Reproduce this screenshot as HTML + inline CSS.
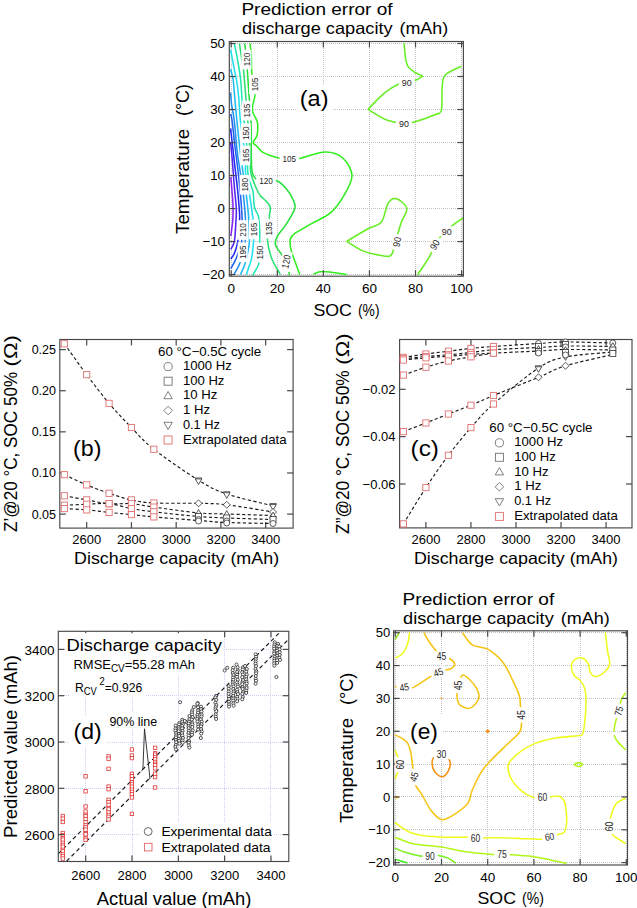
<!DOCTYPE html>
<html><head><meta charset="utf-8"><style>
html,body{margin:0;padding:0;background:#fff;}
body{width:637px;height:908px;overflow:hidden;}
svg{display:block;font-family:"Liberation Sans", sans-serif;}
</style></head><body>
<svg width="637" height="908" viewBox="0 0 637 908">
<rect width="637" height="908" fill="#fff"/>
<line x1="231.5" y1="44" x2="231.5" y2="275" stroke="#c2c2c2" stroke-width="1" stroke-dasharray="1,1"/>
<line x1="277.5" y1="44" x2="277.5" y2="275" stroke="#c2c2c2" stroke-width="1" stroke-dasharray="1,1"/>
<line x1="323.5" y1="44" x2="323.5" y2="275" stroke="#c2c2c2" stroke-width="1" stroke-dasharray="1,1"/>
<line x1="369.5" y1="44" x2="369.5" y2="275" stroke="#c2c2c2" stroke-width="1" stroke-dasharray="1,1"/>
<line x1="415.5" y1="44" x2="415.5" y2="275" stroke="#c2c2c2" stroke-width="1" stroke-dasharray="1,1"/>
<line x1="461.5" y1="44" x2="461.5" y2="275" stroke="#c2c2c2" stroke-width="1" stroke-dasharray="1,1"/>
<line x1="231" y1="274.5" x2="462" y2="274.5" stroke="#c2c2c2" stroke-width="1" stroke-dasharray="1,1"/>
<line x1="231" y1="241.5" x2="462" y2="241.5" stroke="#c2c2c2" stroke-width="1" stroke-dasharray="1,1"/>
<line x1="231" y1="208.5" x2="462" y2="208.5" stroke="#c2c2c2" stroke-width="1" stroke-dasharray="1,1"/>
<line x1="231" y1="175.5" x2="462" y2="175.5" stroke="#c2c2c2" stroke-width="1" stroke-dasharray="1,1"/>
<line x1="231" y1="142.5" x2="462" y2="142.5" stroke="#c2c2c2" stroke-width="1" stroke-dasharray="1,1"/>
<line x1="231" y1="109.5" x2="462" y2="109.5" stroke="#c2c2c2" stroke-width="1" stroke-dasharray="1,1"/>
<line x1="231" y1="76.5" x2="462" y2="76.5" stroke="#c2c2c2" stroke-width="1" stroke-dasharray="1,1"/>
<line x1="231" y1="43.5" x2="462" y2="43.5" stroke="#c2c2c2" stroke-width="1" stroke-dasharray="1,1"/>
<rect x="297" y="86" width="36" height="26.7" fill="#fff"/>
<path d="M404.1,43.2 C404.33,45.67 404.83,54.08 405.5,58 C406.17,61.92 406.52,64.28 408.1,66.7 C409.68,69.12 412.55,70.95 415,72.5 C417.45,74.05 421.5,75.42 422.8,76" fill="none" stroke="#66ee22" stroke-width="1.55" stroke-linejoin="round" stroke-linecap="butt"/>
<path d="M422.8,76 C421.68,76.67 418.77,78.88 416.1,80 C413.43,81.12 409.7,82.03 406.8,82.7 C403.9,83.37 402.5,82.22 398.7,84 C394.9,85.78 389.12,89.17 384,93.4 C378.88,97.63 370.67,106.73 368,109.4" fill="none" stroke="#66ee22" stroke-width="1.55" stroke-linejoin="round" stroke-linecap="butt"/>
<path d="M368,109.4 C371.12,111.17 380.7,117.68 386.7,120 C392.7,122.32 399.55,122.93 404,123.3 C408.45,123.67 408.27,123.63 413.4,122.2 C418.53,120.77 430.13,116.73 434.8,114.7 C439.47,112.67 440.17,114.67 441.4,110 C442.63,105.33 441.52,92.58 442.2,86.7 C442.88,80.82 442.28,78.12 445.5,74.7 C448.72,71.28 458.83,67.62 461.5,66.2" fill="none" stroke="#66ee22" stroke-width="1.55" stroke-linejoin="round" stroke-linecap="butt"/>
<path d="M250,43.5 C250.22,45.25 251,49 251.3,54 C251.6,59 251.35,68.42 251.8,73.5 C252.25,78.58 253.48,80.83 254,84.5 C254.52,88.17 255.2,91.32 254.9,95.5 C254.6,99.68 251.92,105.52 252.2,109.6 C252.48,113.68 255.68,117.5 256.6,120 C257.52,122.5 257.62,122.07 257.7,124.6 C257.78,127.13 257.87,132.22 257.1,135.2 C256.33,138.18 253.22,140.73 253.1,142.5 C252.98,144.27 254.75,144.15 256.4,145.8 C258.05,147.45 259.47,150.42 263,152.4 C266.53,154.38 273.22,156.65 277.6,157.7 C281.98,158.75 285.7,158.57 289.3,158.7 C292.9,158.83 293.18,159.6 299.2,158.5 C305.22,157.4 318.15,152.18 325.4,152.1 C332.65,152.02 338.27,154.12 342.7,158 C347.13,161.88 351.78,169.17 352,175.4 C352.22,181.63 347.55,189.18 344,195.4 C340.45,201.62 336.03,208.03 330.7,212.7 C325.37,217.37 317.78,220.07 312,223.4 C306.22,226.73 299.6,230.15 296,232.7 C292.4,235.25 291.22,235.8 290.4,238.7 C289.58,241.6 290.15,245.82 291.1,250.1 C292.05,254.38 294.67,260.33 296.1,264.4 C297.53,268.47 299.1,272.82 299.7,274.5" fill="none" stroke="#30ee1e" stroke-width="1.55" stroke-linejoin="round" stroke-linecap="butt"/>
<path d="M346.7,241.3 C350.25,239.2 362.22,231.92 368,228.7 C373.78,225.48 378.07,226.22 381.4,222 C384.73,217.78 385.57,207.3 388,203.4 C390.43,199.5 392.87,197.8 396,198.6 C399.13,199.4 405.9,204.3 406.8,208.2 C407.7,212.1 402.97,217.47 401.4,222 C399.83,226.53 398.73,230.73 397.4,235.4 C396.07,240.07 394.73,246.53 393.4,250 C392.07,253.47 392.3,255.43 389.4,256.2 C386.5,256.97 380.45,255.48 376,254.6 C371.55,253.72 367.58,253.12 362.7,250.9 C357.82,248.68 349.37,242.9 346.7,241.3" fill="none" stroke="#66ee22" stroke-width="1.55" stroke-linejoin="round" stroke-linecap="butt"/>
<path d="M313.3,274.4 C314.87,273.9 317.13,271.4 322.7,271.4 C328.27,271.4 342.7,273.9 346.7,274.4" fill="none" stroke="#30ee1e" stroke-width="1.55" stroke-linejoin="round" stroke-linecap="butt"/>
<path d="M417.4,274.9 C419.4,271.88 426.5,261.83 429.4,256.8 C432.3,251.77 432.8,248.27 434.8,244.7 C436.8,241.13 439.4,237.62 441.4,235.4 C443.4,233.18 444.78,233.18 446.8,231.4 C448.82,229.62 450.83,226.93 453.5,224.7 C456.17,222.47 461.25,219.12 462.8,218" fill="none" stroke="#66ee22" stroke-width="1.55" stroke-linejoin="round" stroke-linecap="butt"/>
<path d="M244.7,43.5 C244.83,44.58 245.2,47.25 245.5,50 C245.8,52.75 246.2,56.67 246.5,60 C246.8,63.33 246.87,64 247.3,70 C247.73,76 248.48,87.42 249.1,96 C249.72,104.58 250.65,113.83 251,121.5 C251.35,129.17 251.12,134.75 251.2,142 C251.28,149.25 251.28,159.75 251.5,165 C251.72,170.25 251.83,171.25 252.5,173.5 C253.17,175.75 254.42,177.28 255.5,178.5 C256.58,179.72 257.25,180.42 259,180.8 C260.75,181.18 263.03,180.8 266,180.8 C268.97,180.8 273.45,179.5 276.8,180.8 C280.15,182.1 283.37,185.4 286.1,188.6 C288.83,191.8 291.77,196.65 293.2,200 C294.63,203.35 295.88,204.63 294.7,208.7 C293.52,212.77 288.97,219.88 286.1,224.4 C283.23,228.92 279.28,232.47 277.5,235.8 C275.72,239.13 275.05,241.77 275.4,244.4 C275.75,247.03 277.82,248.73 279.6,251.6 C281.38,254.47 284.53,258.03 286.1,261.6 C287.67,265.17 288.43,270.68 289,273 C289.57,275.32 289.42,275.08 289.5,275.5" fill="none" stroke="#26e03c" stroke-width="1.55" stroke-linejoin="round" stroke-linecap="butt"/>
<path d="M239.5,43.5 C239.78,45.5 240.53,51.08 241.2,55.5 C241.87,59.92 242.68,62.45 243.5,70 C244.32,77.55 245.52,94.03 246.1,100.8 C246.68,107.57 246.6,105.73 247,110.6 C247.4,115.47 248.03,123.43 248.5,130 C248.97,136.57 249.47,143.33 249.8,150 C250.13,156.67 250.13,165.5 250.5,170 C250.87,174.5 251.02,173.92 252,177 C252.98,180.08 255,185.37 256.4,188.5 C257.8,191.63 258.72,193.63 260.4,195.8 C262.08,197.97 264.85,199.6 266.5,201.5 C268.15,203.4 269.8,204.95 270.3,207.2 C270.8,209.45 269.73,211.42 269.5,215 C269.27,218.58 269.23,224.52 268.9,228.7 C268.57,232.88 267.02,235.1 267.5,240.1 C267.98,245.1 269.65,252.97 271.8,258.7 C273.95,264.43 278.97,271.87 280.4,274.5" fill="none" stroke="#2ee070" stroke-width="1.55" stroke-linejoin="round" stroke-linecap="butt"/>
<path d="M234.4,43.5 C234.9,46.05 236.35,52.72 237.4,58.8 C238.45,64.88 239.92,73 240.7,80 C241.48,87 241.55,94.13 242.1,100.8 C242.65,107.47 243.38,114.6 244,120 C244.62,125.4 245.3,128.2 245.8,133.2 C246.3,138.2 246.67,143.53 247,150 C247.33,156.47 247.33,166.68 247.8,172 C248.27,177.32 248.92,178.6 249.8,181.9 C250.68,185.2 252.33,187.62 253.1,191.8 C253.87,195.98 253.52,202.92 254.4,207 C255.28,211.08 257.52,212.47 258.4,216.3 C259.28,220.13 259.5,225.65 259.7,230 C259.9,234.35 259.65,238.63 259.6,242.4 C259.55,246.17 259.55,248.98 259.4,252.6 C259.25,256.22 259.67,260.58 258.7,264.1 C257.73,267.62 254.58,271.8 253.6,273.7 C252.62,275.6 252.93,275.2 252.8,275.5" fill="none" stroke="#20e8b0" stroke-width="1.55" stroke-linejoin="round" stroke-linecap="butt"/>
<path d="M230.6,49.5 C231.18,52.63 233.12,63.22 234.1,68.3 C235.08,73.38 235.75,75.38 236.5,80 C237.25,84.62 237.97,89.33 238.6,96 C239.23,102.67 239.57,112.67 240.3,120 C241.03,127.33 242.18,134.08 243,140 C243.82,145.92 244.78,150.17 245.2,155.5 C245.62,160.83 245.12,167.08 245.5,172 C245.88,176.92 246.78,180.93 247.5,185 C248.22,189.07 248.87,190.63 249.8,196.4 C250.73,202.17 252.42,214.08 253.1,219.6 C253.78,225.12 253.82,225.92 253.9,229.5 C253.98,233.08 253.98,236.3 253.6,241.1 C253.22,245.9 252.45,253.82 251.6,258.3 C250.75,262.78 249.35,265.28 248.5,268 C247.65,270.72 246.83,273.5 246.5,274.6" fill="none" stroke="#20e0f0" stroke-width="1.55" stroke-linejoin="round" stroke-linecap="butt"/>
<path d="M230.6,69 C231.03,70.83 232.53,75.5 233.2,80 C233.87,84.5 234,89.33 234.6,96 C235.2,102.67 235.9,111 236.8,120 C237.7,129 238.98,141.33 240,150 C241.02,158.67 242.12,166.2 242.9,172 C243.68,177.8 244.1,180.73 244.7,184.8 C245.3,188.87 245.82,190.6 246.5,196.4 C247.18,202.2 248.32,212.15 248.8,219.6 C249.28,227.05 249.57,235.7 249.4,241.1 C249.23,246.5 248.55,248.17 247.8,252 C247.05,255.83 246.12,260.33 244.9,264.1 C243.68,267.87 241.23,272.85 240.5,274.6" fill="none" stroke="#20b8f0" stroke-width="1.55" stroke-linejoin="round" stroke-linecap="butt"/>
<path d="M230.6,92.5 C230.75,94.42 230.9,99.42 231.5,104 C232.1,108.58 233.28,112.33 234.2,120 C235.12,127.67 236,141.33 237,150 C238,158.67 239.12,164.27 240.2,172 C241.28,179.73 242.62,188.47 243.5,196.4 C244.38,204.33 245.2,212.15 245.5,219.6 C245.8,227.05 245.77,235.65 245.3,241.1 C244.83,246.55 243.67,248.47 242.7,252.3 C241.73,256.13 240.98,260.38 239.5,264.1 C238.02,267.82 234.75,272.85 233.8,274.6" fill="none" stroke="#2290f0" stroke-width="1.55" stroke-linejoin="round" stroke-linecap="butt"/>
<path d="M230.6,114 C230.83,115 231.3,114.83 232,120 C232.7,125.17 233.82,136.67 234.8,145 C235.78,153.33 236.93,161.43 237.9,170 C238.87,178.57 239.88,188.13 240.6,196.4 C241.32,204.67 241.95,214 242.2,219.6 C242.45,225.2 242.18,226.42 242.1,230 C242.02,233.58 242.45,236.97 241.7,241.1 C240.95,245.23 238.82,251.28 237.6,254.8 C236.38,258.32 235.53,259.9 234.4,262.2 C233.27,264.5 231.4,267.53 230.8,268.6" fill="none" stroke="#2260f0" stroke-width="1.55" stroke-linejoin="round" stroke-linecap="butt"/>
<path d="M230.6,128.5 C231,132.08 232.22,143.08 233,150 C233.78,156.92 234.53,163.37 235.3,170 C236.07,176.63 236.95,183.42 237.6,189.8 C238.25,196.18 238.87,203.33 239.2,208.3 C239.53,213.27 239.82,214.13 239.6,219.6 C239.38,225.07 238.77,235.5 237.9,241.1 C237.03,246.7 235.58,250.22 234.4,253.2 C233.22,256.18 231.4,258.03 230.8,259" fill="none" stroke="#2228f0" stroke-width="1.55" stroke-linejoin="round" stroke-linecap="butt"/>
<path d="M230.6,142.5 C230.88,145.42 231.87,155.08 232.3,160 C232.73,164.92 232.82,167.03 233.2,172 C233.58,176.97 234.08,183.75 234.6,189.8 C235.12,195.85 236.07,203.27 236.3,208.3 C236.53,213.33 236.32,214.53 236,220 C235.68,225.47 235.27,236.2 234.4,241.1 C233.53,246 231.4,248.02 230.8,249.4" fill="none" stroke="#5522f0" stroke-width="1.55" stroke-linejoin="round" stroke-linecap="butt"/>
<path d="M230.8,177 C231.05,180 231.93,190.1 232.3,195 C232.67,199.9 232.92,202.23 233,206.4 C233.08,210.57 233.17,215.07 232.8,220 C232.43,224.93 231.13,233.33 230.8,236" fill="none" stroke="#8a22f0" stroke-width="1.55" stroke-linejoin="round" stroke-linecap="butt"/>
<rect x="229.3" y="41.5" width="234.1" height="234.7" fill="none" stroke="#484848" stroke-width="1.15"/>
<line x1="231.2" y1="41.5" x2="231.2" y2="47.5" stroke="#484848" stroke-width="1.2"/>
<line x1="231.2" y1="276.2" x2="231.2" y2="270.2" stroke="#484848" stroke-width="1.2"/>
<line x1="277.28" y1="41.5" x2="277.28" y2="47.5" stroke="#484848" stroke-width="1.2"/>
<line x1="277.28" y1="276.2" x2="277.28" y2="270.2" stroke="#484848" stroke-width="1.2"/>
<line x1="323.36" y1="41.5" x2="323.36" y2="47.5" stroke="#484848" stroke-width="1.2"/>
<line x1="323.36" y1="276.2" x2="323.36" y2="270.2" stroke="#484848" stroke-width="1.2"/>
<line x1="369.44" y1="41.5" x2="369.44" y2="47.5" stroke="#484848" stroke-width="1.2"/>
<line x1="369.44" y1="276.2" x2="369.44" y2="270.2" stroke="#484848" stroke-width="1.2"/>
<line x1="415.52" y1="41.5" x2="415.52" y2="47.5" stroke="#484848" stroke-width="1.2"/>
<line x1="415.52" y1="276.2" x2="415.52" y2="270.2" stroke="#484848" stroke-width="1.2"/>
<line x1="461.6" y1="41.5" x2="461.6" y2="47.5" stroke="#484848" stroke-width="1.2"/>
<line x1="461.6" y1="276.2" x2="461.6" y2="270.2" stroke="#484848" stroke-width="1.2"/>
<line x1="229.3" y1="274.57" x2="235.3" y2="274.57" stroke="#484848" stroke-width="1.2"/>
<line x1="463.4" y1="274.57" x2="457.4" y2="274.57" stroke="#484848" stroke-width="1.2"/>
<line x1="229.3" y1="241.56" x2="235.3" y2="241.56" stroke="#484848" stroke-width="1.2"/>
<line x1="463.4" y1="241.56" x2="457.4" y2="241.56" stroke="#484848" stroke-width="1.2"/>
<line x1="229.3" y1="208.55" x2="235.3" y2="208.55" stroke="#484848" stroke-width="1.2"/>
<line x1="463.4" y1="208.55" x2="457.4" y2="208.55" stroke="#484848" stroke-width="1.2"/>
<line x1="229.3" y1="175.54" x2="235.3" y2="175.54" stroke="#484848" stroke-width="1.2"/>
<line x1="463.4" y1="175.54" x2="457.4" y2="175.54" stroke="#484848" stroke-width="1.2"/>
<line x1="229.3" y1="142.53" x2="235.3" y2="142.53" stroke="#484848" stroke-width="1.2"/>
<line x1="463.4" y1="142.53" x2="457.4" y2="142.53" stroke="#484848" stroke-width="1.2"/>
<line x1="229.3" y1="109.52" x2="235.3" y2="109.52" stroke="#484848" stroke-width="1.2"/>
<line x1="463.4" y1="109.52" x2="457.4" y2="109.52" stroke="#484848" stroke-width="1.2"/>
<line x1="229.3" y1="76.51" x2="235.3" y2="76.51" stroke="#484848" stroke-width="1.2"/>
<line x1="463.4" y1="76.51" x2="457.4" y2="76.51" stroke="#484848" stroke-width="1.2"/>
<line x1="229.3" y1="43.5" x2="235.3" y2="43.5" stroke="#484848" stroke-width="1.2"/>
<line x1="463.4" y1="43.5" x2="457.4" y2="43.5" stroke="#484848" stroke-width="1.2"/>
<g><rect x="396.05" y="118.3" width="15.9" height="10" fill="#fff"/>
<text x="404" y="126.8" font-size="9.78" text-anchor="middle" textLength="9.9" lengthAdjust="spacingAndGlyphs" fill="#262626">90</text></g>
<g><rect x="398.85" y="77.7" width="15.9" height="10" fill="#fff"/>
<text x="406.8" y="86.2" font-size="9.78" text-anchor="middle" textLength="9.9" lengthAdjust="spacingAndGlyphs" fill="#262626">90</text></g>
<g><rect x="279.49" y="153.7" width="19.61" height="10" fill="#fff"/>
<text x="289.3" y="162.2" font-size="9.78" text-anchor="middle" textLength="13.61" lengthAdjust="spacingAndGlyphs" fill="#262626">105</text></g>
<g transform="rotate(-80 397 242)"><rect x="389.05" y="237" width="15.9" height="10" fill="#fff"/>
<text x="397" y="245.5" font-size="9.78" text-anchor="middle" textLength="9.9" lengthAdjust="spacingAndGlyphs" fill="#262626">90</text></g>
<g transform="rotate(-60 434.8 244.7)"><rect x="426.85" y="239.7" width="15.9" height="10" fill="#fff"/>
<text x="434.8" y="248.2" font-size="9.78" text-anchor="middle" textLength="9.9" lengthAdjust="spacingAndGlyphs" fill="#262626">90</text></g>
<g><rect x="438.85" y="226.4" width="15.9" height="10" fill="#fff"/>
<text x="446.8" y="234.9" font-size="9.78" text-anchor="middle" textLength="9.9" lengthAdjust="spacingAndGlyphs" fill="#262626">90</text></g>
<g transform="rotate(-90 246.5 59.5)"><rect x="236.69" y="54.5" width="19.61" height="10" fill="#fff"/>
<text x="246.5" y="63" font-size="9.78" text-anchor="middle" textLength="13.61" lengthAdjust="spacingAndGlyphs" fill="#262626">120</text></g>
<g transform="rotate(-90 254.2 84.5)"><rect x="244.39" y="79.5" width="19.61" height="10" fill="#fff"/>
<text x="254.2" y="88" font-size="9.78" text-anchor="middle" textLength="13.61" lengthAdjust="spacingAndGlyphs" fill="#262626">105</text></g>
<g transform="rotate(-90 247 110.6)"><rect x="237.19" y="105.6" width="19.61" height="10" fill="#fff"/>
<text x="247" y="114.1" font-size="9.78" text-anchor="middle" textLength="13.61" lengthAdjust="spacingAndGlyphs" fill="#262626">135</text></g>
<g transform="rotate(-90 245.8 133.2)"><rect x="235.99" y="128.2" width="19.61" height="10" fill="#fff"/>
<text x="245.8" y="136.7" font-size="9.78" text-anchor="middle" textLength="13.61" lengthAdjust="spacingAndGlyphs" fill="#262626">150</text></g>
<g transform="rotate(-90 245.2 155.5)"><rect x="235.39" y="150.5" width="19.61" height="10" fill="#fff"/>
<text x="245.2" y="159" font-size="9.78" text-anchor="middle" textLength="13.61" lengthAdjust="spacingAndGlyphs" fill="#262626">165</text></g>
<g transform="rotate(-90 244.7 184.8)"><rect x="234.89" y="179.8" width="19.61" height="10" fill="#fff"/>
<text x="244.7" y="188.3" font-size="9.78" text-anchor="middle" textLength="13.61" lengthAdjust="spacingAndGlyphs" fill="#262626">180</text></g>
<g transform="rotate(-90 242.1 230)"><rect x="232.29" y="225" width="19.61" height="10" fill="#fff"/>
<text x="242.1" y="233.5" font-size="9.78" text-anchor="middle" textLength="13.61" lengthAdjust="spacingAndGlyphs" fill="#262626">210</text></g>
<g transform="rotate(-90 253.9 229.5)"><rect x="244.09" y="224.5" width="19.61" height="10" fill="#fff"/>
<text x="253.9" y="233" font-size="9.78" text-anchor="middle" textLength="13.61" lengthAdjust="spacingAndGlyphs" fill="#262626">165</text></g>
<g transform="rotate(-90 268.9 228.7)"><rect x="259.09" y="223.7" width="19.61" height="10" fill="#fff"/>
<text x="268.9" y="232.2" font-size="9.78" text-anchor="middle" textLength="13.61" lengthAdjust="spacingAndGlyphs" fill="#262626">135</text></g>
<g transform="rotate(-90 242.7 252.3)"><rect x="232.89" y="247.3" width="19.61" height="10" fill="#fff"/>
<text x="242.7" y="255.8" font-size="9.78" text-anchor="middle" textLength="13.61" lengthAdjust="spacingAndGlyphs" fill="#262626">195</text></g>
<g transform="rotate(-90 259.4 252.6)"><rect x="249.59" y="247.6" width="19.61" height="10" fill="#fff"/>
<text x="259.4" y="256.1" font-size="9.78" text-anchor="middle" textLength="13.61" lengthAdjust="spacingAndGlyphs" fill="#262626">150</text></g>
<g><rect x="256.19" y="175.8" width="19.61" height="10" fill="#fff"/>
<text x="266" y="184.3" font-size="9.78" text-anchor="middle" textLength="13.61" lengthAdjust="spacingAndGlyphs" fill="#262626">120</text></g>
<g transform="rotate(-80 286.1 261.6)"><rect x="276.29" y="256.6" width="19.61" height="10" fill="#fff"/>
<text x="286.1" y="265.1" font-size="9.78" text-anchor="middle" textLength="13.61" lengthAdjust="spacingAndGlyphs" fill="#262626">120</text></g>
<text x="225" y="279.37" font-size="13.3" text-anchor="end" fill="#000">−20</text>
<text x="225" y="246.36" font-size="13.3" text-anchor="end" fill="#000">−10</text>
<text x="225" y="213.35" font-size="13.3" text-anchor="end" fill="#000">0</text>
<text x="225" y="180.34" font-size="13.3" text-anchor="end" fill="#000">10</text>
<text x="225" y="147.33" font-size="13.3" text-anchor="end" fill="#000">20</text>
<text x="225" y="114.32" font-size="13.3" text-anchor="end" fill="#000">30</text>
<text x="225" y="81.31" font-size="13.3" text-anchor="end" fill="#000">40</text>
<text x="225" y="48.3" font-size="13.3" text-anchor="end" fill="#000">50</text>
<text x="231.2" y="292.8" font-size="13.5" text-anchor="middle" fill="#000">0</text>
<text x="277.28" y="292.8" font-size="13.5" text-anchor="middle" fill="#000">20</text>
<text x="323.36" y="292.8" font-size="13.5" text-anchor="middle" fill="#000">40</text>
<text x="369.44" y="292.8" font-size="13.5" text-anchor="middle" fill="#000">60</text>
<text x="415.52" y="292.8" font-size="13.5" text-anchor="middle" fill="#000">80</text>
<text x="461.6" y="292.8" font-size="13.5" text-anchor="middle" fill="#000">100</text>
<text x="241.4" y="14.6" font-size="16.5" textLength="151.2" lengthAdjust="spacingAndGlyphs" fill="#000">Prediction error of</text>
<text x="241.9" y="33.7" font-size="16.5" textLength="150.7" lengthAdjust="spacingAndGlyphs" fill="#000">discharge capacity</text>
<text x="399.5" y="33.7" font-size="16.5" textLength="48.7" lengthAdjust="spacingAndGlyphs" fill="#000">(mAh)</text>
<text x="299.8" y="105.7" font-size="21.5" textLength="28.7" lengthAdjust="spacingAndGlyphs" fill="#000">(a)</text>
<text x="313.4" y="315.7" font-size="16.6" textLength="38.5" lengthAdjust="spacingAndGlyphs" fill="#000">SOC</text>
<text x="358" y="315.7" font-size="16.6" textLength="21.5" lengthAdjust="spacingAndGlyphs" fill="#000">(%)</text>
<text x="189" y="234" font-size="18" textLength="105.3" lengthAdjust="spacingAndGlyphs" transform="rotate(-90 189 234)" fill="#000">Temperature</text>
<text x="189" y="116.1" font-size="18" textLength="32.2" lengthAdjust="spacingAndGlyphs" transform="rotate(-90 189 116.1)" fill="#000">(°C)</text>
<rect x="59.8" y="339.5" width="233.3" height="188.6" fill="none" stroke="#484848" stroke-width="1.15"/>
<line x1="86.7" y1="339.5" x2="86.7" y2="345.5" stroke="#484848" stroke-width="1.2"/>
<line x1="86.7" y1="528.1" x2="86.7" y2="522.1" stroke="#484848" stroke-width="1.2"/>
<line x1="131.44" y1="339.5" x2="131.44" y2="345.5" stroke="#484848" stroke-width="1.2"/>
<line x1="131.44" y1="528.1" x2="131.44" y2="522.1" stroke="#484848" stroke-width="1.2"/>
<line x1="176.18" y1="339.5" x2="176.18" y2="345.5" stroke="#484848" stroke-width="1.2"/>
<line x1="176.18" y1="528.1" x2="176.18" y2="522.1" stroke="#484848" stroke-width="1.2"/>
<line x1="220.92" y1="339.5" x2="220.92" y2="345.5" stroke="#484848" stroke-width="1.2"/>
<line x1="220.92" y1="528.1" x2="220.92" y2="522.1" stroke="#484848" stroke-width="1.2"/>
<line x1="265.66" y1="339.5" x2="265.66" y2="345.5" stroke="#484848" stroke-width="1.2"/>
<line x1="265.66" y1="528.1" x2="265.66" y2="522.1" stroke="#484848" stroke-width="1.2"/>
<line x1="59.8" y1="514.1" x2="65.8" y2="514.1" stroke="#484848" stroke-width="1.2"/>
<line x1="293.1" y1="514.1" x2="287.1" y2="514.1" stroke="#484848" stroke-width="1.2"/>
<line x1="59.8" y1="472.98" x2="65.8" y2="472.98" stroke="#484848" stroke-width="1.2"/>
<line x1="293.1" y1="472.98" x2="287.1" y2="472.98" stroke="#484848" stroke-width="1.2"/>
<line x1="59.8" y1="431.85" x2="65.8" y2="431.85" stroke="#484848" stroke-width="1.2"/>
<line x1="293.1" y1="431.85" x2="287.1" y2="431.85" stroke="#484848" stroke-width="1.2"/>
<line x1="59.8" y1="390.73" x2="65.8" y2="390.73" stroke="#484848" stroke-width="1.2"/>
<line x1="293.1" y1="390.73" x2="287.1" y2="390.73" stroke="#484848" stroke-width="1.2"/>
<line x1="59.8" y1="349.6" x2="65.8" y2="349.6" stroke="#484848" stroke-width="1.2"/>
<line x1="293.1" y1="349.6" x2="287.1" y2="349.6" stroke="#484848" stroke-width="1.2"/>
<text x="56" y="518.6" font-size="12.5" text-anchor="end" fill="#000">0.05</text>
<text x="56" y="477.48" font-size="12.5" text-anchor="end" fill="#000">0.10</text>
<text x="56" y="436.35" font-size="12.5" text-anchor="end" fill="#000">0.15</text>
<text x="56" y="395.23" font-size="12.5" text-anchor="end" fill="#000">0.20</text>
<text x="56" y="354.1" font-size="12.5" text-anchor="end" fill="#000">0.25</text>
<text x="86.7" y="543.8" font-size="13" text-anchor="middle" fill="#000">2600</text>
<text x="131.44" y="543.8" font-size="13" text-anchor="middle" fill="#000">2800</text>
<text x="176.18" y="543.8" font-size="13" text-anchor="middle" fill="#000">3000</text>
<text x="220.92" y="543.8" font-size="13" text-anchor="middle" fill="#000">3200</text>
<text x="265.66" y="543.8" font-size="13" text-anchor="middle" fill="#000">3400</text>
<text x="74.1" y="564.2" font-size="16.5" textLength="150.7" lengthAdjust="spacingAndGlyphs" fill="#000">Discharge capacity</text>
<text x="230.4" y="564.2" font-size="16.5" textLength="48.7" lengthAdjust="spacingAndGlyphs" fill="#000">(mAh)</text>
<text x="17.3" y="531.9" font-size="17.5" textLength="160" lengthAdjust="spacingAndGlyphs" transform="rotate(-90 17.3 531.9)" fill="#000">Z’@20 °C, SOC 50%</text>
<text x="17.3" y="366.5" font-size="19" textLength="31.4" lengthAdjust="spacingAndGlyphs" transform="rotate(-90 17.3 366.5)" fill="#000">(Ω)</text>
<text x="73.1" y="456.4" font-size="21.5" textLength="28.4" lengthAdjust="spacingAndGlyphs" fill="#000">(b)</text>
<path d="M64.33,343.8 C68.06,348.95 79.24,364.77 86.7,374.7 C94.16,384.63 101.61,394.6 109.07,403.4 C116.53,412.2 123.98,419.85 131.44,427.5 C138.9,435.15 142.62,440.52 153.81,449.3 C165,458.08 186.4,472.75 198.55,480.2 C210.7,487.65 214.32,489.73 226.74,494 C239.15,498.27 265.32,503.83 273.04,505.8" fill="none" stroke="#1a1a1a" stroke-width="1.15" stroke-linejoin="round" stroke-linecap="butt" stroke-dasharray="3.2,2.4"/>
<path d="M64.33,474.7 C68.06,476.4 79.24,481.8 86.7,484.9 C94.16,488 101.61,490.8 109.07,493.3 C116.53,495.8 123.98,498.28 131.44,499.9 C138.9,501.52 142.62,502.43 153.81,503 C165,503.57 186.4,503 198.55,503.3 C210.7,503.6 214.32,503.35 226.74,504.8 C239.15,506.25 265.32,510.8 273.04,512" fill="none" stroke="#1a1a1a" stroke-width="1.15" stroke-linejoin="round" stroke-linecap="butt" stroke-dasharray="3.2,2.4"/>
<path d="M64.33,495.8 C68.06,496.48 79.24,498.58 86.7,499.9 C94.16,501.22 101.61,503.07 109.07,503.7 C116.53,504.33 123.98,503.13 131.44,503.7 C138.9,504.27 142.62,505.57 153.81,507.1 C165,508.63 186.4,511.75 198.55,512.9 C210.7,514.05 214.32,513.57 226.74,514 C239.15,514.43 265.32,515.25 273.04,515.5" fill="none" stroke="#1a1a1a" stroke-width="1.15" stroke-linejoin="round" stroke-linecap="butt" stroke-dasharray="3.2,2.4"/>
<path d="M64.33,505.2 C68.06,505.05 79.24,504.55 86.7,504.3 C94.16,504.05 101.61,502.98 109.07,503.7 C116.53,504.42 123.98,507.25 131.44,508.6 C138.9,509.95 142.62,510.48 153.81,511.8 C165,513.12 186.4,515.47 198.55,516.5 C210.7,517.53 214.32,517.5 226.74,518 C239.15,518.5 265.32,519.25 273.04,519.5" fill="none" stroke="#1a1a1a" stroke-width="1.15" stroke-linejoin="round" stroke-linecap="butt" stroke-dasharray="3.2,2.4"/>
<path d="M64.33,508.6 C68.06,508.82 79.24,509.27 86.7,509.9 C94.16,510.53 101.61,511.62 109.07,512.4 C116.53,513.18 123.98,513.85 131.44,514.6 C138.9,515.35 142.62,515.92 153.81,516.9 C165,517.88 186.4,519.57 198.55,520.5 C210.7,521.43 214.32,522 226.74,522.5 C239.15,523 265.32,523.33 273.04,523.5" fill="none" stroke="#1a1a1a" stroke-width="1.15" stroke-linejoin="round" stroke-linecap="butt" stroke-dasharray="3.2,2.4"/>
<rect x="61.23" y="340.7" width="6.2" height="6.2" fill="#fff" stroke="#e07070" stroke-width="0.9"/>
<rect x="83.6" y="371.6" width="6.2" height="6.2" fill="#fff" stroke="#e07070" stroke-width="0.9"/>
<rect x="105.97" y="400.3" width="6.2" height="6.2" fill="#fff" stroke="#e07070" stroke-width="0.9"/>
<rect x="128.34" y="424.4" width="6.2" height="6.2" fill="#fff" stroke="#e07070" stroke-width="0.9"/>
<rect x="150.71" y="446.2" width="6.2" height="6.2" fill="#fff" stroke="#e07070" stroke-width="0.9"/>
<rect x="61.23" y="471.6" width="6.2" height="6.2" fill="#fff" stroke="#e07070" stroke-width="0.9"/>
<rect x="83.6" y="481.8" width="6.2" height="6.2" fill="#fff" stroke="#e07070" stroke-width="0.9"/>
<rect x="105.97" y="490.2" width="6.2" height="6.2" fill="#fff" stroke="#e07070" stroke-width="0.9"/>
<rect x="128.34" y="496.8" width="6.2" height="6.2" fill="#fff" stroke="#e07070" stroke-width="0.9"/>
<rect x="150.71" y="499.9" width="6.2" height="6.2" fill="#fff" stroke="#e07070" stroke-width="0.9"/>
<rect x="61.23" y="492.7" width="6.2" height="6.2" fill="#fff" stroke="#e07070" stroke-width="0.9"/>
<rect x="83.6" y="496.8" width="6.2" height="6.2" fill="#fff" stroke="#e07070" stroke-width="0.9"/>
<rect x="105.97" y="500.6" width="6.2" height="6.2" fill="#fff" stroke="#e07070" stroke-width="0.9"/>
<rect x="128.34" y="500.6" width="6.2" height="6.2" fill="#fff" stroke="#e07070" stroke-width="0.9"/>
<rect x="150.71" y="504" width="6.2" height="6.2" fill="#fff" stroke="#e07070" stroke-width="0.9"/>
<rect x="61.23" y="502.1" width="6.2" height="6.2" fill="#fff" stroke="#e07070" stroke-width="0.9"/>
<rect x="83.6" y="501.2" width="6.2" height="6.2" fill="#fff" stroke="#e07070" stroke-width="0.9"/>
<rect x="105.97" y="500.6" width="6.2" height="6.2" fill="#fff" stroke="#e07070" stroke-width="0.9"/>
<rect x="128.34" y="505.5" width="6.2" height="6.2" fill="#fff" stroke="#e07070" stroke-width="0.9"/>
<rect x="150.71" y="508.7" width="6.2" height="6.2" fill="#fff" stroke="#e07070" stroke-width="0.9"/>
<rect x="61.23" y="505.5" width="6.2" height="6.2" fill="#fff" stroke="#e07070" stroke-width="0.9"/>
<rect x="83.6" y="506.8" width="6.2" height="6.2" fill="#fff" stroke="#e07070" stroke-width="0.9"/>
<rect x="105.97" y="509.3" width="6.2" height="6.2" fill="#fff" stroke="#e07070" stroke-width="0.9"/>
<rect x="128.34" y="511.5" width="6.2" height="6.2" fill="#fff" stroke="#e07070" stroke-width="0.9"/>
<rect x="150.71" y="513.8" width="6.2" height="6.2" fill="#fff" stroke="#e07070" stroke-width="0.9"/>
<path d="M198.55,483.58 L195.3,477.95 L201.8,477.95 Z" fill="#fff" stroke="#333" stroke-width="0.8"/>
<path d="M198.55,484.58 L195.3,478.95 L201.8,478.95 Z" fill="#fff" stroke="#333" stroke-width="0.8"/>
<path d="M226.74,497.38 L223.49,491.75 L229.99,491.75 Z" fill="#fff" stroke="#333" stroke-width="0.8"/>
<path d="M226.74,498.38 L223.49,492.75 L229.99,492.75 Z" fill="#fff" stroke="#333" stroke-width="0.8"/>
<path d="M273.04,509.18 L269.79,503.55 L276.29,503.55 Z" fill="#fff" stroke="#333" stroke-width="0.8"/>
<path d="M273.04,510.18 L269.79,504.55 L276.29,504.55 Z" fill="#fff" stroke="#333" stroke-width="0.8"/>
<path d="M198.55,499.8 L202.05,503.3 L198.55,506.8 L195.05,503.3 Z" fill="#fff" stroke="#333" stroke-width="0.8"/>
<path d="M198.55,509.52 L195.3,515.15 L201.8,515.15 Z" fill="#fff" stroke="#333" stroke-width="0.8"/>
<rect x="195.55" y="513.5" width="6" height="6" fill="#fff" stroke="#333" stroke-width="0.8"/>
<circle cx="198.55" cy="519.5" r="3" fill="#fff" stroke="#333" stroke-width="0.8"/>
<circle cx="198.55" cy="521" r="3" fill="#fff" stroke="#333" stroke-width="0.8"/>
<path d="M226.74,501.3 L230.24,504.8 L226.74,508.3 L223.24,504.8 Z" fill="#fff" stroke="#333" stroke-width="0.8"/>
<path d="M226.74,510.62 L223.49,516.25 L229.99,516.25 Z" fill="#fff" stroke="#333" stroke-width="0.8"/>
<rect x="223.74" y="515" width="6" height="6" fill="#fff" stroke="#333" stroke-width="0.8"/>
<circle cx="226.74" cy="521" r="3" fill="#fff" stroke="#333" stroke-width="0.8"/>
<circle cx="226.74" cy="523" r="3" fill="#fff" stroke="#333" stroke-width="0.8"/>
<path d="M273.04,508.5 L276.54,512 L273.04,515.5 L269.54,512 Z" fill="#fff" stroke="#333" stroke-width="0.8"/>
<path d="M273.04,512.12 L269.79,517.75 L276.29,517.75 Z" fill="#fff" stroke="#333" stroke-width="0.8"/>
<rect x="270.04" y="516.5" width="6" height="6" fill="#fff" stroke="#333" stroke-width="0.8"/>
<circle cx="273.04" cy="523.5" r="3" fill="#fff" stroke="#333" stroke-width="0.8"/>
<text x="158" y="355.6" font-size="12.6" textLength="103.2" lengthAdjust="spacingAndGlyphs" fill="#000">60 °C−0.5C cycle</text>
<circle cx="168.1" cy="366.6" r="4.1" fill="#fff" stroke="#707070" stroke-width="0.9"/>
<text x="182.9" y="370.2" font-size="12.6" textLength="49" lengthAdjust="spacingAndGlyphs" fill="#000">1000 Hz</text>
<rect x="164.1" y="377.2" width="8" height="8" fill="#fff" stroke="#707070" stroke-width="0.9"/>
<text x="182.9" y="384.8" font-size="12.6" textLength="41.5" lengthAdjust="spacingAndGlyphs" fill="#000">100 Hz</text>
<path d="M168.1,391.44 L163.9,398.71 L172.3,398.71 Z" fill="#fff" stroke="#707070" stroke-width="0.9"/>
<text x="182.9" y="399.4" font-size="12.6" textLength="34.4" lengthAdjust="spacingAndGlyphs" fill="#000">10 Hz</text>
<path d="M168.1,406.2 L172.4,410.5 L168.1,414.8 L163.8,410.5 Z" fill="#fff" stroke="#707070" stroke-width="0.9"/>
<text x="182.9" y="414.1" font-size="12.6" textLength="27.1" lengthAdjust="spacingAndGlyphs" fill="#000">1 Hz</text>
<path d="M168.1,429.56 L163.9,422.29 L172.3,422.29 Z" fill="#fff" stroke="#707070" stroke-width="0.9"/>
<text x="182.9" y="428.8" font-size="12.6" textLength="37" lengthAdjust="spacingAndGlyphs" fill="#000">0.1 Hz</text>
<rect x="164.1" y="436" width="8" height="8" fill="#fff" stroke="#e07070" stroke-width="0.9"/>
<text x="182.9" y="443.6" font-size="12.6" textLength="103.7" lengthAdjust="spacingAndGlyphs" fill="#000">Extrapolated data</text>
<rect x="399.6" y="339.5" width="232.4" height="188.4" fill="none" stroke="#484848" stroke-width="1.15"/>
<line x1="425.9" y1="339.5" x2="425.9" y2="345.5" stroke="#484848" stroke-width="1.2"/>
<line x1="425.9" y1="527.9" x2="425.9" y2="521.9" stroke="#484848" stroke-width="1.2"/>
<line x1="470.94" y1="339.5" x2="470.94" y2="345.5" stroke="#484848" stroke-width="1.2"/>
<line x1="470.94" y1="527.9" x2="470.94" y2="521.9" stroke="#484848" stroke-width="1.2"/>
<line x1="515.98" y1="339.5" x2="515.98" y2="345.5" stroke="#484848" stroke-width="1.2"/>
<line x1="515.98" y1="527.9" x2="515.98" y2="521.9" stroke="#484848" stroke-width="1.2"/>
<line x1="561.02" y1="339.5" x2="561.02" y2="345.5" stroke="#484848" stroke-width="1.2"/>
<line x1="561.02" y1="527.9" x2="561.02" y2="521.9" stroke="#484848" stroke-width="1.2"/>
<line x1="606.06" y1="339.5" x2="606.06" y2="345.5" stroke="#484848" stroke-width="1.2"/>
<line x1="606.06" y1="527.9" x2="606.06" y2="521.9" stroke="#484848" stroke-width="1.2"/>
<line x1="399.6" y1="389.3" x2="405.6" y2="389.3" stroke="#484848" stroke-width="1.2"/>
<line x1="632" y1="389.3" x2="626" y2="389.3" stroke="#484848" stroke-width="1.2"/>
<line x1="399.6" y1="436.65" x2="405.6" y2="436.65" stroke="#484848" stroke-width="1.2"/>
<line x1="632" y1="436.65" x2="626" y2="436.65" stroke="#484848" stroke-width="1.2"/>
<line x1="399.6" y1="484" x2="405.6" y2="484" stroke="#484848" stroke-width="1.2"/>
<line x1="632" y1="484" x2="626" y2="484" stroke="#484848" stroke-width="1.2"/>
<text x="395.5" y="393.9" font-size="13" text-anchor="end" fill="#000">−0.02</text>
<text x="395.5" y="441.25" font-size="13" text-anchor="end" fill="#000">−0.04</text>
<text x="395.5" y="488.6" font-size="13" text-anchor="end" fill="#000">−0.06</text>
<text x="425.9" y="543.8" font-size="13" text-anchor="middle" fill="#000">2600</text>
<text x="470.94" y="543.8" font-size="13" text-anchor="middle" fill="#000">2800</text>
<text x="515.98" y="543.8" font-size="13" text-anchor="middle" fill="#000">3000</text>
<text x="561.02" y="543.8" font-size="13" text-anchor="middle" fill="#000">3200</text>
<text x="606.06" y="543.8" font-size="13" text-anchor="middle" fill="#000">3400</text>
<text x="413.9" y="564.3" font-size="16.5" textLength="150.7" lengthAdjust="spacingAndGlyphs" fill="#000">Discharge capacity</text>
<text x="569.7" y="564.3" font-size="16.5" textLength="48.2" lengthAdjust="spacingAndGlyphs" fill="#000">(mAh)</text>
<text x="349.2" y="533.9" font-size="17.5" textLength="163.6" lengthAdjust="spacingAndGlyphs" transform="rotate(-90 349.2 533.9)" fill="#000">Z”@20 °C, SOC 50%</text>
<text x="349.2" y="364.7" font-size="19" textLength="31.4" lengthAdjust="spacingAndGlyphs" transform="rotate(-90 349.2 364.7)" fill="#000">(Ω)</text>
<text x="410.6" y="456.3" font-size="21.5" textLength="28.4" lengthAdjust="spacingAndGlyphs" fill="#000">(c)</text>
<path d="M403.38,357.4 C407.13,356.83 418.39,355.03 425.9,354 C433.41,352.97 440.91,352.13 448.42,351.2 C455.93,350.27 463.43,349.18 470.94,348.4 C478.45,347.62 482.2,347.32 493.46,346.5 C504.72,345.68 526.49,344.25 538.5,343.5 C550.51,342.75 553.14,342.08 565.52,342 C577.91,341.92 604.93,342.83 612.82,343" fill="none" stroke="#1a1a1a" stroke-width="1.15" stroke-linejoin="round" stroke-linecap="butt" stroke-dasharray="3.2,2.4"/>
<path d="M403.38,358.8 C407.13,358.42 418.39,357.17 425.9,356.5 C433.41,355.83 440.91,355.47 448.42,354.8 C455.93,354.13 463.43,353.35 470.94,352.5 C478.45,351.65 482.2,350.53 493.46,349.7 C504.72,348.87 526.49,348.12 538.5,347.5 C550.51,346.88 553.14,346.17 565.52,346 C577.91,345.83 604.93,346.42 612.82,346.5" fill="none" stroke="#1a1a1a" stroke-width="1.15" stroke-linejoin="round" stroke-linecap="butt" stroke-dasharray="3.2,2.4"/>
<path d="M403.38,360 C407.13,359.63 418.39,358.43 425.9,357.8 C433.41,357.17 440.91,356.75 448.42,356.2 C455.93,355.65 463.43,355.02 470.94,354.5 C478.45,353.98 482.2,353.68 493.46,353.1 C504.72,352.52 526.49,351.6 538.5,351 C550.51,350.4 553.14,349.67 565.52,349.5 C577.91,349.33 604.93,349.92 612.82,350" fill="none" stroke="#1a1a1a" stroke-width="1.15" stroke-linejoin="round" stroke-linecap="butt" stroke-dasharray="3.2,2.4"/>
<path d="M403.38,375.1 C407.13,373.78 418.39,369.55 425.9,367.2 C433.41,364.85 440.91,362.73 448.42,361 C455.93,359.27 463.43,358.12 470.94,356.8 C478.45,355.48 489.71,353.72 493.46,353.1" fill="none" stroke="#1a1a1a" stroke-width="1.15" stroke-linejoin="round" stroke-linecap="butt" stroke-dasharray="3.2,2.4"/>
<path d="M403.38,431.6 C407.13,430.17 418.39,425.93 425.9,423 C433.41,420.07 440.91,416.97 448.42,414 C455.93,411.03 463.43,408.28 470.94,405.2 C478.45,402.12 482.2,400.15 493.46,395.5 C504.72,390.85 526.49,382.25 538.5,377.3 C550.51,372.35 553.14,369.6 565.52,365.8 C577.91,362 604.93,356.38 612.82,354.5" fill="none" stroke="#1a1a1a" stroke-width="1.15" stroke-linejoin="round" stroke-linecap="butt" stroke-dasharray="3.2,2.4"/>
<path d="M403.38,523.9 C407.13,517.85 418.39,499.03 425.9,487.6 C433.41,476.17 440.91,465.3 448.42,455.3 C455.93,445.3 463.43,436.15 470.94,427.6 C478.45,419.05 482.2,413.93 493.46,404 C504.72,394.07 526.49,375.83 538.5,368 C550.51,360.17 553.14,359.67 565.52,357 C577.91,354.33 604.93,352.83 612.82,352" fill="none" stroke="#1a1a1a" stroke-width="1.15" stroke-linejoin="round" stroke-linecap="butt" stroke-dasharray="3.2,2.4"/>
<rect x="400.28" y="354.3" width="6.2" height="6.2" fill="#fff" stroke="#e07070" stroke-width="0.9"/>
<rect x="422.8" y="350.9" width="6.2" height="6.2" fill="#fff" stroke="#e07070" stroke-width="0.9"/>
<rect x="445.32" y="348.1" width="6.2" height="6.2" fill="#fff" stroke="#e07070" stroke-width="0.9"/>
<rect x="467.84" y="345.3" width="6.2" height="6.2" fill="#fff" stroke="#e07070" stroke-width="0.9"/>
<rect x="490.36" y="343.4" width="6.2" height="6.2" fill="#fff" stroke="#e07070" stroke-width="0.9"/>
<rect x="400.28" y="355.7" width="6.2" height="6.2" fill="#fff" stroke="#e07070" stroke-width="0.9"/>
<rect x="422.8" y="353.4" width="6.2" height="6.2" fill="#fff" stroke="#e07070" stroke-width="0.9"/>
<rect x="445.32" y="351.7" width="6.2" height="6.2" fill="#fff" stroke="#e07070" stroke-width="0.9"/>
<rect x="467.84" y="349.4" width="6.2" height="6.2" fill="#fff" stroke="#e07070" stroke-width="0.9"/>
<rect x="490.36" y="346.6" width="6.2" height="6.2" fill="#fff" stroke="#e07070" stroke-width="0.9"/>
<rect x="400.28" y="356.9" width="6.2" height="6.2" fill="#fff" stroke="#e07070" stroke-width="0.9"/>
<rect x="422.8" y="354.7" width="6.2" height="6.2" fill="#fff" stroke="#e07070" stroke-width="0.9"/>
<rect x="445.32" y="353.1" width="6.2" height="6.2" fill="#fff" stroke="#e07070" stroke-width="0.9"/>
<rect x="467.84" y="351.4" width="6.2" height="6.2" fill="#fff" stroke="#e07070" stroke-width="0.9"/>
<rect x="490.36" y="350" width="6.2" height="6.2" fill="#fff" stroke="#e07070" stroke-width="0.9"/>
<rect x="400.28" y="372" width="6.2" height="6.2" fill="#fff" stroke="#e07070" stroke-width="0.9"/>
<rect x="422.8" y="364.1" width="6.2" height="6.2" fill="#fff" stroke="#e07070" stroke-width="0.9"/>
<rect x="445.32" y="357.9" width="6.2" height="6.2" fill="#fff" stroke="#e07070" stroke-width="0.9"/>
<rect x="467.84" y="353.7" width="6.2" height="6.2" fill="#fff" stroke="#e07070" stroke-width="0.9"/>
<rect x="490.36" y="350" width="6.2" height="6.2" fill="#fff" stroke="#e07070" stroke-width="0.9"/>
<rect x="400.28" y="428.5" width="6.2" height="6.2" fill="#fff" stroke="#e07070" stroke-width="0.9"/>
<rect x="422.8" y="419.9" width="6.2" height="6.2" fill="#fff" stroke="#e07070" stroke-width="0.9"/>
<rect x="445.32" y="410.9" width="6.2" height="6.2" fill="#fff" stroke="#e07070" stroke-width="0.9"/>
<rect x="467.84" y="402.1" width="6.2" height="6.2" fill="#fff" stroke="#e07070" stroke-width="0.9"/>
<rect x="490.36" y="392.4" width="6.2" height="6.2" fill="#fff" stroke="#e07070" stroke-width="0.9"/>
<rect x="400.28" y="520.8" width="6.2" height="6.2" fill="#fff" stroke="#e07070" stroke-width="0.9"/>
<rect x="422.8" y="484.5" width="6.2" height="6.2" fill="#fff" stroke="#e07070" stroke-width="0.9"/>
<rect x="445.32" y="452.2" width="6.2" height="6.2" fill="#fff" stroke="#e07070" stroke-width="0.9"/>
<rect x="467.84" y="424.5" width="6.2" height="6.2" fill="#fff" stroke="#e07070" stroke-width="0.9"/>
<rect x="490.36" y="400.9" width="6.2" height="6.2" fill="#fff" stroke="#e07070" stroke-width="0.9"/>
<path d="M538.5,371.38 L535.25,365.75 L541.75,365.75 Z" fill="#fff" stroke="#333" stroke-width="0.8"/>
<path d="M538.5,372.38 L535.25,366.75 L541.75,366.75 Z" fill="#fff" stroke="#333" stroke-width="0.8"/>
<path d="M538.5,373.8 L542,377.3 L538.5,380.8 L535,377.3 Z" fill="#fff" stroke="#333" stroke-width="0.8"/>
<circle cx="538.5" cy="343.5" r="3" fill="#fff" stroke="#333" stroke-width="0.8"/>
<rect x="535.5" y="343.5" width="6" height="6" fill="#fff" stroke="#333" stroke-width="0.8"/>
<path d="M538.5,345.62 L535.25,351.25 L541.75,351.25 Z" fill="#fff" stroke="#333" stroke-width="0.8"/>
<rect x="535.5" y="348.5" width="6" height="6" fill="#fff" stroke="#333" stroke-width="0.8"/>
<circle cx="538.5" cy="353" r="3" fill="#fff" stroke="#333" stroke-width="0.8"/>
<path d="M565.52,362.3 L569.02,365.8 L565.52,369.3 L562.02,365.8 Z" fill="#fff" stroke="#333" stroke-width="0.8"/>
<path d="M565.52,360.38 L562.27,354.75 L568.77,354.75 Z" fill="#fff" stroke="#333" stroke-width="0.8"/>
<circle cx="565.52" cy="342" r="3" fill="#fff" stroke="#333" stroke-width="0.8"/>
<rect x="562.52" y="341.5" width="6" height="6" fill="#fff" stroke="#333" stroke-width="0.8"/>
<circle cx="565.52" cy="347" r="3" fill="#fff" stroke="#333" stroke-width="0.8"/>
<path d="M565.52,346.62 L562.27,352.25 L568.77,352.25 Z" fill="#fff" stroke="#333" stroke-width="0.8"/>
<rect x="562.52" y="349.5" width="6" height="6" fill="#fff" stroke="#333" stroke-width="0.8"/>
<circle cx="565.52" cy="355" r="3" fill="#fff" stroke="#333" stroke-width="0.8"/>
<circle cx="612.82" cy="343" r="3" fill="#fff" stroke="#333" stroke-width="0.8"/>
<path d="M612.82,342.62 L609.57,348.25 L616.07,348.25 Z" fill="#fff" stroke="#333" stroke-width="0.8"/>
<rect x="609.82" y="347" width="6" height="6" fill="#fff" stroke="#333" stroke-width="0.8"/>
<rect x="609.82" y="350.5" width="6" height="6" fill="#fff" stroke="#333" stroke-width="0.8"/>
<text x="489.3" y="431.8" font-size="12.6" textLength="103.2" lengthAdjust="spacingAndGlyphs" fill="#000">60 °C−0.5C cycle</text>
<circle cx="499.4" cy="442.8" r="4.1" fill="#fff" stroke="#707070" stroke-width="0.9"/>
<text x="514.2" y="446.4" font-size="12.6" textLength="49" lengthAdjust="spacingAndGlyphs" fill="#000">1000 Hz</text>
<rect x="495.4" y="453.3" width="8" height="8" fill="#fff" stroke="#707070" stroke-width="0.9"/>
<text x="514.2" y="460.9" font-size="12.6" textLength="41.5" lengthAdjust="spacingAndGlyphs" fill="#000">100 Hz</text>
<path d="M499.4,467.64 L495.2,474.91 L503.6,474.91 Z" fill="#fff" stroke="#707070" stroke-width="0.9"/>
<text x="514.2" y="475.6" font-size="12.6" textLength="34.4" lengthAdjust="spacingAndGlyphs" fill="#000">10 Hz</text>
<path d="M499.4,482.5 L503.7,486.8 L499.4,491.1 L495.1,486.8 Z" fill="#fff" stroke="#707070" stroke-width="0.9"/>
<text x="514.2" y="490.4" font-size="12.6" textLength="27.1" lengthAdjust="spacingAndGlyphs" fill="#000">1 Hz</text>
<path d="M499.4,505.96 L495.2,498.69 L503.6,498.69 Z" fill="#fff" stroke="#707070" stroke-width="0.9"/>
<text x="514.2" y="505.2" font-size="12.6" textLength="37" lengthAdjust="spacingAndGlyphs" fill="#000">0.1 Hz</text>
<rect x="495.4" y="512.4" width="8" height="8" fill="#fff" stroke="#e07070" stroke-width="0.9"/>
<text x="514.2" y="520" font-size="12.6" textLength="103.7" lengthAdjust="spacingAndGlyphs" fill="#000">Extrapolated data</text>
<line x1="85.5" y1="631" x2="85.5" y2="862" stroke="#cdd0f2" stroke-width="1" stroke-dasharray="1,1"/>
<line x1="132.5" y1="631" x2="132.5" y2="862" stroke="#cdd0f2" stroke-width="1" stroke-dasharray="1,1"/>
<line x1="178.5" y1="631" x2="178.5" y2="862" stroke="#cdd0f2" stroke-width="1" stroke-dasharray="1,1"/>
<line x1="224.5" y1="631" x2="224.5" y2="862" stroke="#cdd0f2" stroke-width="1" stroke-dasharray="1,1"/>
<line x1="270.5" y1="631" x2="270.5" y2="862" stroke="#cdd0f2" stroke-width="1" stroke-dasharray="1,1"/>
<line x1="58" y1="834.5" x2="289" y2="834.5" stroke="#cdd0f2" stroke-width="1" stroke-dasharray="1,1"/>
<line x1="58" y1="788.5" x2="289" y2="788.5" stroke="#cdd0f2" stroke-width="1" stroke-dasharray="1,1"/>
<line x1="58" y1="742.5" x2="289" y2="742.5" stroke="#cdd0f2" stroke-width="1" stroke-dasharray="1,1"/>
<line x1="58" y1="695.5" x2="289" y2="695.5" stroke="#cdd0f2" stroke-width="1" stroke-dasharray="1,1"/>
<line x1="58" y1="649.5" x2="289" y2="649.5" stroke="#cdd0f2" stroke-width="1" stroke-dasharray="1,1"/>
<rect x="68.5" y="716" width="38.2" height="30" fill="#fff"/>
<rect x="107" y="713" width="53" height="15" fill="#fff"/>
<rect x="140" y="823" width="134" height="36" fill="#fff"/>
<line x1="58.14" y1="853.93" x2="280.82" y2="631.34" stroke="#1e1e1e" stroke-width="1.2" stroke-dasharray="4,3"/>
<line x1="66.59" y1="861.22" x2="288.58" y2="639.33" stroke="#1e1e1e" stroke-width="1.2" stroke-dasharray="4,3"/>
<rect x="61.1" y="814.3" width="3.4" height="3.4" fill="#fff" stroke="#e03838" stroke-width="0.8"/>
<rect x="61.1" y="816.9" width="3.4" height="3.4" fill="#fff" stroke="#e03838" stroke-width="0.8"/>
<rect x="61.1" y="820.3" width="3.4" height="3.4" fill="#fff" stroke="#e03838" stroke-width="0.8"/>
<rect x="61.1" y="831.32" width="3.4" height="3.4" fill="#fff" stroke="#e03838" stroke-width="0.8"/>
<rect x="61.1" y="833.4" width="3.4" height="3.4" fill="#fff" stroke="#e03838" stroke-width="0.8"/>
<rect x="61.1" y="836.55" width="3.4" height="3.4" fill="#fff" stroke="#e03838" stroke-width="0.8"/>
<rect x="61.1" y="837.98" width="3.4" height="3.4" fill="#fff" stroke="#e03838" stroke-width="0.8"/>
<rect x="61.1" y="841.08" width="3.4" height="3.4" fill="#fff" stroke="#e03838" stroke-width="0.8"/>
<rect x="61.1" y="843.16" width="3.4" height="3.4" fill="#fff" stroke="#e03838" stroke-width="0.8"/>
<rect x="61.1" y="845.02" width="3.4" height="3.4" fill="#fff" stroke="#e03838" stroke-width="0.8"/>
<rect x="61.1" y="848.09" width="3.4" height="3.4" fill="#fff" stroke="#e03838" stroke-width="0.8"/>
<rect x="61.1" y="849.7" width="3.4" height="3.4" fill="#fff" stroke="#e03838" stroke-width="0.8"/>
<rect x="61.1" y="852.68" width="3.4" height="3.4" fill="#fff" stroke="#e03838" stroke-width="0.8"/>
<rect x="61.1" y="854.46" width="3.4" height="3.4" fill="#fff" stroke="#e03838" stroke-width="0.8"/>
<rect x="61.1" y="856.85" width="3.4" height="3.4" fill="#fff" stroke="#e03838" stroke-width="0.8"/>
<rect x="83.9" y="774.6" width="3.4" height="3.4" fill="#fff" stroke="#e03838" stroke-width="0.8"/>
<rect x="83.9" y="789.6" width="3.4" height="3.4" fill="#fff" stroke="#e03838" stroke-width="0.8"/>
<rect x="83.9" y="804.8" width="3.4" height="3.4" fill="#fff" stroke="#e03838" stroke-width="0.8"/>
<rect x="83.9" y="809.88" width="3.4" height="3.4" fill="#fff" stroke="#e03838" stroke-width="0.8"/>
<rect x="83.9" y="813.11" width="3.4" height="3.4" fill="#fff" stroke="#e03838" stroke-width="0.8"/>
<rect x="83.9" y="814.58" width="3.4" height="3.4" fill="#fff" stroke="#e03838" stroke-width="0.8"/>
<rect x="83.9" y="817.33" width="3.4" height="3.4" fill="#fff" stroke="#e03838" stroke-width="0.8"/>
<rect x="83.9" y="820.57" width="3.4" height="3.4" fill="#fff" stroke="#e03838" stroke-width="0.8"/>
<rect x="83.9" y="823.67" width="3.4" height="3.4" fill="#fff" stroke="#e03838" stroke-width="0.8"/>
<rect x="83.9" y="825.67" width="3.4" height="3.4" fill="#fff" stroke="#e03838" stroke-width="0.8"/>
<rect x="83.9" y="827.97" width="3.4" height="3.4" fill="#fff" stroke="#e03838" stroke-width="0.8"/>
<rect x="83.9" y="831.49" width="3.4" height="3.4" fill="#fff" stroke="#e03838" stroke-width="0.8"/>
<rect x="83.9" y="832.59" width="3.4" height="3.4" fill="#fff" stroke="#e03838" stroke-width="0.8"/>
<rect x="83.9" y="836.48" width="3.4" height="3.4" fill="#fff" stroke="#e03838" stroke-width="0.8"/>
<rect x="83.9" y="838.16" width="3.4" height="3.4" fill="#fff" stroke="#e03838" stroke-width="0.8"/>
<rect x="106.9" y="754.7" width="3.4" height="3.4" fill="#fff" stroke="#e03838" stroke-width="0.8"/>
<rect x="106.9" y="757" width="3.4" height="3.4" fill="#fff" stroke="#e03838" stroke-width="0.8"/>
<rect x="106.9" y="767.1" width="3.4" height="3.4" fill="#fff" stroke="#e03838" stroke-width="0.8"/>
<rect x="106.9" y="784.9" width="3.4" height="3.4" fill="#fff" stroke="#e03838" stroke-width="0.8"/>
<rect x="106.9" y="787.5" width="3.4" height="3.4" fill="#fff" stroke="#e03838" stroke-width="0.8"/>
<rect x="106.9" y="798.13" width="3.4" height="3.4" fill="#fff" stroke="#e03838" stroke-width="0.8"/>
<rect x="106.9" y="800.46" width="3.4" height="3.4" fill="#fff" stroke="#e03838" stroke-width="0.8"/>
<rect x="106.9" y="803.14" width="3.4" height="3.4" fill="#fff" stroke="#e03838" stroke-width="0.8"/>
<rect x="106.9" y="806.33" width="3.4" height="3.4" fill="#fff" stroke="#e03838" stroke-width="0.8"/>
<rect x="106.9" y="807.69" width="3.4" height="3.4" fill="#fff" stroke="#e03838" stroke-width="0.8"/>
<rect x="106.9" y="810.71" width="3.4" height="3.4" fill="#fff" stroke="#e03838" stroke-width="0.8"/>
<rect x="106.9" y="813.17" width="3.4" height="3.4" fill="#fff" stroke="#e03838" stroke-width="0.8"/>
<rect x="106.9" y="815.12" width="3.4" height="3.4" fill="#fff" stroke="#e03838" stroke-width="0.8"/>
<rect x="106.9" y="817.78" width="3.4" height="3.4" fill="#fff" stroke="#e03838" stroke-width="0.8"/>
<rect x="130.2" y="747.8" width="3.4" height="3.4" fill="#fff" stroke="#e03838" stroke-width="0.8"/>
<rect x="130.2" y="753.8" width="3.4" height="3.4" fill="#fff" stroke="#e03838" stroke-width="0.8"/>
<rect x="130.2" y="756.4" width="3.4" height="3.4" fill="#fff" stroke="#e03838" stroke-width="0.8"/>
<rect x="130.2" y="812.2" width="3.4" height="3.4" fill="#fff" stroke="#e03838" stroke-width="0.8"/>
<rect x="130.2" y="772.1" width="3.4" height="3.4" fill="#fff" stroke="#e03838" stroke-width="0.8"/>
<rect x="130.2" y="774.6" width="3.4" height="3.4" fill="#fff" stroke="#e03838" stroke-width="0.8"/>
<rect x="130.2" y="777.33" width="3.4" height="3.4" fill="#fff" stroke="#e03838" stroke-width="0.8"/>
<rect x="130.2" y="780.59" width="3.4" height="3.4" fill="#fff" stroke="#e03838" stroke-width="0.8"/>
<rect x="130.2" y="782.68" width="3.4" height="3.4" fill="#fff" stroke="#e03838" stroke-width="0.8"/>
<rect x="130.2" y="785" width="3.4" height="3.4" fill="#fff" stroke="#e03838" stroke-width="0.8"/>
<rect x="130.2" y="787.94" width="3.4" height="3.4" fill="#fff" stroke="#e03838" stroke-width="0.8"/>
<rect x="130.2" y="790.23" width="3.4" height="3.4" fill="#fff" stroke="#e03838" stroke-width="0.8"/>
<rect x="130.2" y="792.48" width="3.4" height="3.4" fill="#fff" stroke="#e03838" stroke-width="0.8"/>
<rect x="130.2" y="795.77" width="3.4" height="3.4" fill="#fff" stroke="#e03838" stroke-width="0.8"/>
<rect x="153.4" y="746.1" width="3.4" height="3.4" fill="#fff" stroke="#e03838" stroke-width="0.8"/>
<rect x="153.4" y="772" width="3.4" height="3.4" fill="#fff" stroke="#e03838" stroke-width="0.8"/>
<rect x="153.4" y="775.4" width="3.4" height="3.4" fill="#fff" stroke="#e03838" stroke-width="0.8"/>
<rect x="153.4" y="785.8" width="3.4" height="3.4" fill="#fff" stroke="#e03838" stroke-width="0.8"/>
<rect x="153.4" y="751.62" width="3.4" height="3.4" fill="#fff" stroke="#e03838" stroke-width="0.8"/>
<rect x="153.4" y="752.98" width="3.4" height="3.4" fill="#fff" stroke="#e03838" stroke-width="0.8"/>
<rect x="153.4" y="755.59" width="3.4" height="3.4" fill="#fff" stroke="#e03838" stroke-width="0.8"/>
<rect x="153.4" y="757.6" width="3.4" height="3.4" fill="#fff" stroke="#e03838" stroke-width="0.8"/>
<rect x="153.4" y="760.24" width="3.4" height="3.4" fill="#fff" stroke="#e03838" stroke-width="0.8"/>
<rect x="153.4" y="762.1" width="3.4" height="3.4" fill="#fff" stroke="#e03838" stroke-width="0.8"/>
<rect x="153.4" y="763.47" width="3.4" height="3.4" fill="#fff" stroke="#e03838" stroke-width="0.8"/>
<rect x="153.4" y="766.67" width="3.4" height="3.4" fill="#fff" stroke="#e03838" stroke-width="0.8"/>
<circle cx="175.72" cy="725.62" r="1.55" fill="#fff" stroke="#2a2a2a" stroke-width="0.8"/>
<circle cx="175.45" cy="728.58" r="1.55" fill="#fff" stroke="#2a2a2a" stroke-width="0.8"/>
<circle cx="175.34" cy="730.63" r="1.55" fill="#fff" stroke="#2a2a2a" stroke-width="0.8"/>
<circle cx="176.06" cy="733.13" r="1.55" fill="#fff" stroke="#2a2a2a" stroke-width="0.8"/>
<circle cx="176.18" cy="735.35" r="1.55" fill="#fff" stroke="#2a2a2a" stroke-width="0.8"/>
<circle cx="176" cy="737.41" r="1.55" fill="#fff" stroke="#2a2a2a" stroke-width="0.8"/>
<circle cx="175.88" cy="740.01" r="1.55" fill="#fff" stroke="#2a2a2a" stroke-width="0.8"/>
<circle cx="176.14" cy="742.2" r="1.55" fill="#fff" stroke="#2a2a2a" stroke-width="0.8"/>
<circle cx="175.77" cy="745" r="1.55" fill="#fff" stroke="#2a2a2a" stroke-width="0.8"/>
<circle cx="175.36" cy="747.04" r="1.55" fill="#fff" stroke="#2a2a2a" stroke-width="0.8"/>
<circle cx="175.95" cy="749.4" r="1.55" fill="#fff" stroke="#2a2a2a" stroke-width="0.8"/>
<circle cx="179.52" cy="722.89" r="1.55" fill="#fff" stroke="#2a2a2a" stroke-width="0.8"/>
<circle cx="179.09" cy="724.5" r="1.55" fill="#fff" stroke="#2a2a2a" stroke-width="0.8"/>
<circle cx="178.72" cy="727.19" r="1.55" fill="#fff" stroke="#2a2a2a" stroke-width="0.8"/>
<circle cx="178.87" cy="729.3" r="1.55" fill="#fff" stroke="#2a2a2a" stroke-width="0.8"/>
<circle cx="178.76" cy="731.26" r="1.55" fill="#fff" stroke="#2a2a2a" stroke-width="0.8"/>
<circle cx="178.83" cy="734.22" r="1.55" fill="#fff" stroke="#2a2a2a" stroke-width="0.8"/>
<circle cx="179.09" cy="736.01" r="1.55" fill="#fff" stroke="#2a2a2a" stroke-width="0.8"/>
<circle cx="178.78" cy="738.95" r="1.55" fill="#fff" stroke="#2a2a2a" stroke-width="0.8"/>
<circle cx="179.25" cy="740.84" r="1.55" fill="#fff" stroke="#2a2a2a" stroke-width="0.8"/>
<circle cx="179.52" cy="743.58" r="1.55" fill="#fff" stroke="#2a2a2a" stroke-width="0.8"/>
<circle cx="182.28" cy="719.76" r="1.55" fill="#fff" stroke="#2a2a2a" stroke-width="0.8"/>
<circle cx="182.36" cy="721.64" r="1.55" fill="#fff" stroke="#2a2a2a" stroke-width="0.8"/>
<circle cx="182.96" cy="724.42" r="1.55" fill="#fff" stroke="#2a2a2a" stroke-width="0.8"/>
<circle cx="182.18" cy="726.01" r="1.55" fill="#fff" stroke="#2a2a2a" stroke-width="0.8"/>
<circle cx="182.23" cy="728.41" r="1.55" fill="#fff" stroke="#2a2a2a" stroke-width="0.8"/>
<circle cx="182.59" cy="730.98" r="1.55" fill="#fff" stroke="#2a2a2a" stroke-width="0.8"/>
<circle cx="182" cy="733.08" r="1.55" fill="#fff" stroke="#2a2a2a" stroke-width="0.8"/>
<circle cx="182.37" cy="735.56" r="1.55" fill="#fff" stroke="#2a2a2a" stroke-width="0.8"/>
<circle cx="182.95" cy="738.03" r="1.55" fill="#fff" stroke="#2a2a2a" stroke-width="0.8"/>
<circle cx="182.52" cy="740.47" r="1.55" fill="#fff" stroke="#2a2a2a" stroke-width="0.8"/>
<circle cx="182.68" cy="742.72" r="1.55" fill="#fff" stroke="#2a2a2a" stroke-width="0.8"/>
<circle cx="189.4" cy="716.05" r="1.55" fill="#fff" stroke="#2a2a2a" stroke-width="0.8"/>
<circle cx="189.37" cy="719.2" r="1.55" fill="#fff" stroke="#2a2a2a" stroke-width="0.8"/>
<circle cx="188.89" cy="721.64" r="1.55" fill="#fff" stroke="#2a2a2a" stroke-width="0.8"/>
<circle cx="188.6" cy="723.67" r="1.55" fill="#fff" stroke="#2a2a2a" stroke-width="0.8"/>
<circle cx="188.56" cy="726.33" r="1.55" fill="#fff" stroke="#2a2a2a" stroke-width="0.8"/>
<circle cx="188.71" cy="728.18" r="1.55" fill="#fff" stroke="#2a2a2a" stroke-width="0.8"/>
<circle cx="188.84" cy="730.7" r="1.55" fill="#fff" stroke="#2a2a2a" stroke-width="0.8"/>
<circle cx="188.5" cy="733.01" r="1.55" fill="#fff" stroke="#2a2a2a" stroke-width="0.8"/>
<circle cx="188.6" cy="735.54" r="1.55" fill="#fff" stroke="#2a2a2a" stroke-width="0.8"/>
<circle cx="188.53" cy="738.17" r="1.55" fill="#fff" stroke="#2a2a2a" stroke-width="0.8"/>
<circle cx="189.11" cy="741.11" r="1.55" fill="#fff" stroke="#2a2a2a" stroke-width="0.8"/>
<circle cx="188.75" cy="742.8" r="1.55" fill="#fff" stroke="#2a2a2a" stroke-width="0.8"/>
<circle cx="188.86" cy="745.42" r="1.55" fill="#fff" stroke="#2a2a2a" stroke-width="0.8"/>
<circle cx="189.35" cy="747.62" r="1.55" fill="#fff" stroke="#2a2a2a" stroke-width="0.8"/>
<circle cx="192.27" cy="710.39" r="1.55" fill="#fff" stroke="#2a2a2a" stroke-width="0.8"/>
<circle cx="191.89" cy="712.38" r="1.55" fill="#fff" stroke="#2a2a2a" stroke-width="0.8"/>
<circle cx="192.14" cy="714.5" r="1.55" fill="#fff" stroke="#2a2a2a" stroke-width="0.8"/>
<circle cx="192.63" cy="717.16" r="1.55" fill="#fff" stroke="#2a2a2a" stroke-width="0.8"/>
<circle cx="191.82" cy="719.56" r="1.55" fill="#fff" stroke="#2a2a2a" stroke-width="0.8"/>
<circle cx="192.33" cy="722.85" r="1.55" fill="#fff" stroke="#2a2a2a" stroke-width="0.8"/>
<circle cx="192.34" cy="724.55" r="1.55" fill="#fff" stroke="#2a2a2a" stroke-width="0.8"/>
<circle cx="192.33" cy="726.93" r="1.55" fill="#fff" stroke="#2a2a2a" stroke-width="0.8"/>
<circle cx="192.66" cy="730.38" r="1.55" fill="#fff" stroke="#2a2a2a" stroke-width="0.8"/>
<circle cx="192.06" cy="732.6" r="1.55" fill="#fff" stroke="#2a2a2a" stroke-width="0.8"/>
<circle cx="191.97" cy="734.77" r="1.55" fill="#fff" stroke="#2a2a2a" stroke-width="0.8"/>
<circle cx="197.73" cy="703.07" r="1.55" fill="#fff" stroke="#2a2a2a" stroke-width="0.8"/>
<circle cx="197.53" cy="705.46" r="1.55" fill="#fff" stroke="#2a2a2a" stroke-width="0.8"/>
<circle cx="198.01" cy="707.29" r="1.55" fill="#fff" stroke="#2a2a2a" stroke-width="0.8"/>
<circle cx="198.05" cy="710.43" r="1.55" fill="#fff" stroke="#2a2a2a" stroke-width="0.8"/>
<circle cx="198.02" cy="712.63" r="1.55" fill="#fff" stroke="#2a2a2a" stroke-width="0.8"/>
<circle cx="197.43" cy="714.95" r="1.55" fill="#fff" stroke="#2a2a2a" stroke-width="0.8"/>
<circle cx="197.56" cy="717.11" r="1.55" fill="#fff" stroke="#2a2a2a" stroke-width="0.8"/>
<circle cx="197.23" cy="719" r="1.55" fill="#fff" stroke="#2a2a2a" stroke-width="0.8"/>
<circle cx="197.46" cy="721.63" r="1.55" fill="#fff" stroke="#2a2a2a" stroke-width="0.8"/>
<circle cx="198.16" cy="724.43" r="1.55" fill="#fff" stroke="#2a2a2a" stroke-width="0.8"/>
<circle cx="198.14" cy="726.57" r="1.55" fill="#fff" stroke="#2a2a2a" stroke-width="0.8"/>
<circle cx="198.16" cy="729.49" r="1.55" fill="#fff" stroke="#2a2a2a" stroke-width="0.8"/>
<circle cx="201.02" cy="706.76" r="1.55" fill="#fff" stroke="#2a2a2a" stroke-width="0.8"/>
<circle cx="201" cy="709.06" r="1.55" fill="#fff" stroke="#2a2a2a" stroke-width="0.8"/>
<circle cx="201.42" cy="711.48" r="1.55" fill="#fff" stroke="#2a2a2a" stroke-width="0.8"/>
<circle cx="201.64" cy="714.61" r="1.55" fill="#fff" stroke="#2a2a2a" stroke-width="0.8"/>
<circle cx="201.45" cy="716.62" r="1.55" fill="#fff" stroke="#2a2a2a" stroke-width="0.8"/>
<circle cx="200.88" cy="719.38" r="1.55" fill="#fff" stroke="#2a2a2a" stroke-width="0.8"/>
<circle cx="201.71" cy="721.68" r="1.55" fill="#fff" stroke="#2a2a2a" stroke-width="0.8"/>
<circle cx="201.55" cy="724.24" r="1.55" fill="#fff" stroke="#2a2a2a" stroke-width="0.8"/>
<circle cx="200.98" cy="726.37" r="1.55" fill="#fff" stroke="#2a2a2a" stroke-width="0.8"/>
<circle cx="201.13" cy="729.12" r="1.55" fill="#fff" stroke="#2a2a2a" stroke-width="0.8"/>
<circle cx="201.77" cy="731.56" r="1.55" fill="#fff" stroke="#2a2a2a" stroke-width="0.8"/>
<circle cx="201.2" cy="733.6" r="1.55" fill="#fff" stroke="#2a2a2a" stroke-width="0.8"/>
<circle cx="216.02" cy="695.95" r="1.55" fill="#fff" stroke="#2a2a2a" stroke-width="0.8"/>
<circle cx="215.43" cy="697.48" r="1.55" fill="#fff" stroke="#2a2a2a" stroke-width="0.8"/>
<circle cx="216.2" cy="699.77" r="1.55" fill="#fff" stroke="#2a2a2a" stroke-width="0.8"/>
<circle cx="215.45" cy="702.74" r="1.55" fill="#fff" stroke="#2a2a2a" stroke-width="0.8"/>
<circle cx="216.28" cy="705.07" r="1.55" fill="#fff" stroke="#2a2a2a" stroke-width="0.8"/>
<circle cx="215.65" cy="707.21" r="1.55" fill="#fff" stroke="#2a2a2a" stroke-width="0.8"/>
<circle cx="215.43" cy="709.41" r="1.55" fill="#fff" stroke="#2a2a2a" stroke-width="0.8"/>
<circle cx="216.27" cy="711.18" r="1.55" fill="#fff" stroke="#2a2a2a" stroke-width="0.8"/>
<circle cx="215.83" cy="714.13" r="1.55" fill="#fff" stroke="#2a2a2a" stroke-width="0.8"/>
<circle cx="215.73" cy="716.72" r="1.55" fill="#fff" stroke="#2a2a2a" stroke-width="0.8"/>
<circle cx="216.13" cy="718.97" r="1.55" fill="#fff" stroke="#2a2a2a" stroke-width="0.8"/>
<circle cx="228.75" cy="686.11" r="1.55" fill="#fff" stroke="#2a2a2a" stroke-width="0.8"/>
<circle cx="228.74" cy="688.71" r="1.55" fill="#fff" stroke="#2a2a2a" stroke-width="0.8"/>
<circle cx="228.76" cy="691.51" r="1.55" fill="#fff" stroke="#2a2a2a" stroke-width="0.8"/>
<circle cx="228.63" cy="693.86" r="1.55" fill="#fff" stroke="#2a2a2a" stroke-width="0.8"/>
<circle cx="228.85" cy="696.86" r="1.55" fill="#fff" stroke="#2a2a2a" stroke-width="0.8"/>
<circle cx="229.08" cy="698.92" r="1.55" fill="#fff" stroke="#2a2a2a" stroke-width="0.8"/>
<circle cx="228.92" cy="701.88" r="1.55" fill="#fff" stroke="#2a2a2a" stroke-width="0.8"/>
<circle cx="229" cy="704.41" r="1.55" fill="#fff" stroke="#2a2a2a" stroke-width="0.8"/>
<circle cx="229.02" cy="706.53" r="1.55" fill="#fff" stroke="#2a2a2a" stroke-width="0.8"/>
<circle cx="233.14" cy="667.72" r="1.55" fill="#fff" stroke="#2a2a2a" stroke-width="0.8"/>
<circle cx="232.7" cy="670.2" r="1.55" fill="#fff" stroke="#2a2a2a" stroke-width="0.8"/>
<circle cx="232.87" cy="673.12" r="1.55" fill="#fff" stroke="#2a2a2a" stroke-width="0.8"/>
<circle cx="233.43" cy="675.11" r="1.55" fill="#fff" stroke="#2a2a2a" stroke-width="0.8"/>
<circle cx="233.03" cy="677.51" r="1.55" fill="#fff" stroke="#2a2a2a" stroke-width="0.8"/>
<circle cx="233.26" cy="679.78" r="1.55" fill="#fff" stroke="#2a2a2a" stroke-width="0.8"/>
<circle cx="232.81" cy="682.36" r="1.55" fill="#fff" stroke="#2a2a2a" stroke-width="0.8"/>
<circle cx="232.95" cy="684.45" r="1.55" fill="#fff" stroke="#2a2a2a" stroke-width="0.8"/>
<circle cx="233.47" cy="686.48" r="1.55" fill="#fff" stroke="#2a2a2a" stroke-width="0.8"/>
<circle cx="233.26" cy="689.02" r="1.55" fill="#fff" stroke="#2a2a2a" stroke-width="0.8"/>
<circle cx="233.61" cy="691.58" r="1.55" fill="#fff" stroke="#2a2a2a" stroke-width="0.8"/>
<circle cx="233.31" cy="693.58" r="1.55" fill="#fff" stroke="#2a2a2a" stroke-width="0.8"/>
<circle cx="233.21" cy="695.96" r="1.55" fill="#fff" stroke="#2a2a2a" stroke-width="0.8"/>
<circle cx="233.15" cy="698.46" r="1.55" fill="#fff" stroke="#2a2a2a" stroke-width="0.8"/>
<circle cx="233.18" cy="700.61" r="1.55" fill="#fff" stroke="#2a2a2a" stroke-width="0.8"/>
<circle cx="233.4" cy="703.33" r="1.55" fill="#fff" stroke="#2a2a2a" stroke-width="0.8"/>
<circle cx="233.64" cy="705.58" r="1.55" fill="#fff" stroke="#2a2a2a" stroke-width="0.8"/>
<circle cx="237.56" cy="667.26" r="1.55" fill="#fff" stroke="#2a2a2a" stroke-width="0.8"/>
<circle cx="237.84" cy="670.36" r="1.55" fill="#fff" stroke="#2a2a2a" stroke-width="0.8"/>
<circle cx="237.12" cy="671.98" r="1.55" fill="#fff" stroke="#2a2a2a" stroke-width="0.8"/>
<circle cx="237.07" cy="674.71" r="1.55" fill="#fff" stroke="#2a2a2a" stroke-width="0.8"/>
<circle cx="237.07" cy="676.93" r="1.55" fill="#fff" stroke="#2a2a2a" stroke-width="0.8"/>
<circle cx="237.78" cy="679.78" r="1.55" fill="#fff" stroke="#2a2a2a" stroke-width="0.8"/>
<circle cx="237.15" cy="682.43" r="1.55" fill="#fff" stroke="#2a2a2a" stroke-width="0.8"/>
<circle cx="237.66" cy="684.67" r="1.55" fill="#fff" stroke="#2a2a2a" stroke-width="0.8"/>
<circle cx="237.88" cy="686.51" r="1.55" fill="#fff" stroke="#2a2a2a" stroke-width="0.8"/>
<circle cx="237.22" cy="689.76" r="1.55" fill="#fff" stroke="#2a2a2a" stroke-width="0.8"/>
<circle cx="237.4" cy="692.17" r="1.55" fill="#fff" stroke="#2a2a2a" stroke-width="0.8"/>
<circle cx="237.99" cy="694.12" r="1.55" fill="#fff" stroke="#2a2a2a" stroke-width="0.8"/>
<circle cx="237.16" cy="696.89" r="1.55" fill="#fff" stroke="#2a2a2a" stroke-width="0.8"/>
<circle cx="237.52" cy="698.91" r="1.55" fill="#fff" stroke="#2a2a2a" stroke-width="0.8"/>
<circle cx="237.2" cy="701.24" r="1.55" fill="#fff" stroke="#2a2a2a" stroke-width="0.8"/>
<circle cx="242.92" cy="667.32" r="1.55" fill="#fff" stroke="#2a2a2a" stroke-width="0.8"/>
<circle cx="242.75" cy="669.44" r="1.55" fill="#fff" stroke="#2a2a2a" stroke-width="0.8"/>
<circle cx="242.22" cy="672.29" r="1.55" fill="#fff" stroke="#2a2a2a" stroke-width="0.8"/>
<circle cx="242.82" cy="674.6" r="1.55" fill="#fff" stroke="#2a2a2a" stroke-width="0.8"/>
<circle cx="242.26" cy="677.2" r="1.55" fill="#fff" stroke="#2a2a2a" stroke-width="0.8"/>
<circle cx="242.99" cy="680.1" r="1.55" fill="#fff" stroke="#2a2a2a" stroke-width="0.8"/>
<circle cx="242.3" cy="682.51" r="1.55" fill="#fff" stroke="#2a2a2a" stroke-width="0.8"/>
<circle cx="242.24" cy="684.23" r="1.55" fill="#fff" stroke="#2a2a2a" stroke-width="0.8"/>
<circle cx="242.47" cy="687.16" r="1.55" fill="#fff" stroke="#2a2a2a" stroke-width="0.8"/>
<circle cx="242.62" cy="688.94" r="1.55" fill="#fff" stroke="#2a2a2a" stroke-width="0.8"/>
<circle cx="243.02" cy="692.14" r="1.55" fill="#fff" stroke="#2a2a2a" stroke-width="0.8"/>
<circle cx="242.35" cy="693.91" r="1.55" fill="#fff" stroke="#2a2a2a" stroke-width="0.8"/>
<circle cx="242.77" cy="697" r="1.55" fill="#fff" stroke="#2a2a2a" stroke-width="0.8"/>
<circle cx="242.29" cy="699.2" r="1.55" fill="#fff" stroke="#2a2a2a" stroke-width="0.8"/>
<circle cx="246.79" cy="668.96" r="1.55" fill="#fff" stroke="#2a2a2a" stroke-width="0.8"/>
<circle cx="246.17" cy="671.72" r="1.55" fill="#fff" stroke="#2a2a2a" stroke-width="0.8"/>
<circle cx="246.73" cy="674.62" r="1.55" fill="#fff" stroke="#2a2a2a" stroke-width="0.8"/>
<circle cx="246.18" cy="676.87" r="1.55" fill="#fff" stroke="#2a2a2a" stroke-width="0.8"/>
<circle cx="246.17" cy="679.32" r="1.55" fill="#fff" stroke="#2a2a2a" stroke-width="0.8"/>
<circle cx="246.55" cy="681.71" r="1.55" fill="#fff" stroke="#2a2a2a" stroke-width="0.8"/>
<circle cx="246.65" cy="683.58" r="1.55" fill="#fff" stroke="#2a2a2a" stroke-width="0.8"/>
<circle cx="246.37" cy="686.56" r="1.55" fill="#fff" stroke="#2a2a2a" stroke-width="0.8"/>
<circle cx="246.63" cy="688.15" r="1.55" fill="#fff" stroke="#2a2a2a" stroke-width="0.8"/>
<circle cx="246.21" cy="690.65" r="1.55" fill="#fff" stroke="#2a2a2a" stroke-width="0.8"/>
<circle cx="246.15" cy="692.96" r="1.55" fill="#fff" stroke="#2a2a2a" stroke-width="0.8"/>
<circle cx="255.61" cy="654.4" r="1.55" fill="#fff" stroke="#2a2a2a" stroke-width="0.8"/>
<circle cx="256.06" cy="656.88" r="1.55" fill="#fff" stroke="#2a2a2a" stroke-width="0.8"/>
<circle cx="255.8" cy="659.24" r="1.55" fill="#fff" stroke="#2a2a2a" stroke-width="0.8"/>
<circle cx="255.65" cy="661.5" r="1.55" fill="#fff" stroke="#2a2a2a" stroke-width="0.8"/>
<circle cx="255.55" cy="663.72" r="1.55" fill="#fff" stroke="#2a2a2a" stroke-width="0.8"/>
<circle cx="256.03" cy="666.09" r="1.55" fill="#fff" stroke="#2a2a2a" stroke-width="0.8"/>
<circle cx="255.49" cy="669" r="1.55" fill="#fff" stroke="#2a2a2a" stroke-width="0.8"/>
<circle cx="256.23" cy="671.3" r="1.55" fill="#fff" stroke="#2a2a2a" stroke-width="0.8"/>
<circle cx="256.12" cy="673.31" r="1.55" fill="#fff" stroke="#2a2a2a" stroke-width="0.8"/>
<circle cx="255.8" cy="676.01" r="1.55" fill="#fff" stroke="#2a2a2a" stroke-width="0.8"/>
<circle cx="255.69" cy="678.78" r="1.55" fill="#fff" stroke="#2a2a2a" stroke-width="0.8"/>
<circle cx="255.99" cy="680.83" r="1.55" fill="#fff" stroke="#2a2a2a" stroke-width="0.8"/>
<circle cx="255.64" cy="683.68" r="1.55" fill="#fff" stroke="#2a2a2a" stroke-width="0.8"/>
<circle cx="274.81" cy="642.33" r="1.55" fill="#fff" stroke="#2a2a2a" stroke-width="0.8"/>
<circle cx="274.5" cy="644.51" r="1.55" fill="#fff" stroke="#2a2a2a" stroke-width="0.8"/>
<circle cx="274.15" cy="646.59" r="1.55" fill="#fff" stroke="#2a2a2a" stroke-width="0.8"/>
<circle cx="274.17" cy="648.74" r="1.55" fill="#fff" stroke="#2a2a2a" stroke-width="0.8"/>
<circle cx="274.36" cy="651.72" r="1.55" fill="#fff" stroke="#2a2a2a" stroke-width="0.8"/>
<circle cx="274.18" cy="653.51" r="1.55" fill="#fff" stroke="#2a2a2a" stroke-width="0.8"/>
<circle cx="274.97" cy="656.56" r="1.55" fill="#fff" stroke="#2a2a2a" stroke-width="0.8"/>
<circle cx="274.38" cy="658.76" r="1.55" fill="#fff" stroke="#2a2a2a" stroke-width="0.8"/>
<circle cx="274.39" cy="660.7" r="1.55" fill="#fff" stroke="#2a2a2a" stroke-width="0.8"/>
<circle cx="274.26" cy="663.29" r="1.55" fill="#fff" stroke="#2a2a2a" stroke-width="0.8"/>
<circle cx="274.36" cy="665.65" r="1.55" fill="#fff" stroke="#2a2a2a" stroke-width="0.8"/>
<circle cx="278.07" cy="643.96" r="1.55" fill="#fff" stroke="#2a2a2a" stroke-width="0.8"/>
<circle cx="277.34" cy="645.98" r="1.55" fill="#fff" stroke="#2a2a2a" stroke-width="0.8"/>
<circle cx="277.41" cy="648.84" r="1.55" fill="#fff" stroke="#2a2a2a" stroke-width="0.8"/>
<circle cx="277.1" cy="650.67" r="1.55" fill="#fff" stroke="#2a2a2a" stroke-width="0.8"/>
<circle cx="277.57" cy="653.13" r="1.55" fill="#fff" stroke="#2a2a2a" stroke-width="0.8"/>
<circle cx="277.3" cy="655.69" r="1.55" fill="#fff" stroke="#2a2a2a" stroke-width="0.8"/>
<circle cx="277.1" cy="658.13" r="1.55" fill="#fff" stroke="#2a2a2a" stroke-width="0.8"/>
<circle cx="277.19" cy="660.33" r="1.55" fill="#fff" stroke="#2a2a2a" stroke-width="0.8"/>
<circle cx="277.14" cy="662.9" r="1.55" fill="#fff" stroke="#2a2a2a" stroke-width="0.8"/>
<circle cx="279.3" cy="646.52" r="1.55" fill="#fff" stroke="#2a2a2a" stroke-width="0.8"/>
<circle cx="279.59" cy="649.33" r="1.55" fill="#fff" stroke="#2a2a2a" stroke-width="0.8"/>
<circle cx="279.75" cy="652.23" r="1.55" fill="#fff" stroke="#2a2a2a" stroke-width="0.8"/>
<circle cx="279.72" cy="654.96" r="1.55" fill="#fff" stroke="#2a2a2a" stroke-width="0.8"/>
<circle cx="279.39" cy="657.78" r="1.55" fill="#fff" stroke="#2a2a2a" stroke-width="0.8"/>
<circle cx="279.98" cy="659.83" r="1.55" fill="#fff" stroke="#2a2a2a" stroke-width="0.8"/>
<circle cx="180.1" cy="702.2" r="1.55" fill="#fff" stroke="#2a2a2a" stroke-width="0.8"/>
<circle cx="276.4" cy="677" r="1.55" fill="#fff" stroke="#2a2a2a" stroke-width="0.8"/>
<circle cx="193.8" cy="707" r="1.55" fill="#fff" stroke="#2a2a2a" stroke-width="0.8"/>
<circle cx="197.4" cy="703.7" r="1.55" fill="#fff" stroke="#2a2a2a" stroke-width="0.8"/>
<circle cx="186" cy="722" r="1.55" fill="#fff" stroke="#2a2a2a" stroke-width="0.8"/>
<circle cx="184.8" cy="721" r="1.55" fill="#fff" stroke="#2a2a2a" stroke-width="0.8"/>
<circle cx="200.8" cy="738" r="1.55" fill="#fff" stroke="#2a2a2a" stroke-width="0.8"/>
<circle cx="224.6" cy="670.5" r="1.55" fill="#fff" stroke="#2a2a2a" stroke-width="0.8"/>
<circle cx="227.2" cy="667.8" r="1.55" fill="#fff" stroke="#2a2a2a" stroke-width="0.8"/>
<circle cx="236.5" cy="664.5" r="1.55" fill="#fff" stroke="#2a2a2a" stroke-width="0.8"/>
<circle cx="245" cy="666" r="1.55" fill="#fff" stroke="#2a2a2a" stroke-width="0.8"/>
<path d="M141.3,771 L142.9,769.5 L144.5,728.8 L150,778.6 L148.5,779.3" fill="none" stroke="#222" stroke-width="0.9" stroke-linejoin="round" stroke-linecap="butt"/>
<rect x="58.3" y="631.3" width="230.5" height="230.2" fill="none" stroke="#484848" stroke-width="1.15"/>
<line x1="85.7" y1="631.3" x2="85.7" y2="637.3" stroke="#484848" stroke-width="1.2"/>
<line x1="85.7" y1="861.5" x2="85.7" y2="855.5" stroke="#484848" stroke-width="1.2"/>
<line x1="132.02" y1="631.3" x2="132.02" y2="637.3" stroke="#484848" stroke-width="1.2"/>
<line x1="132.02" y1="861.5" x2="132.02" y2="855.5" stroke="#484848" stroke-width="1.2"/>
<line x1="178.34" y1="631.3" x2="178.34" y2="637.3" stroke="#484848" stroke-width="1.2"/>
<line x1="178.34" y1="861.5" x2="178.34" y2="855.5" stroke="#484848" stroke-width="1.2"/>
<line x1="224.66" y1="631.3" x2="224.66" y2="637.3" stroke="#484848" stroke-width="1.2"/>
<line x1="224.66" y1="861.5" x2="224.66" y2="855.5" stroke="#484848" stroke-width="1.2"/>
<line x1="270.98" y1="631.3" x2="270.98" y2="637.3" stroke="#484848" stroke-width="1.2"/>
<line x1="270.98" y1="861.5" x2="270.98" y2="855.5" stroke="#484848" stroke-width="1.2"/>
<line x1="58.3" y1="834.6" x2="64.3" y2="834.6" stroke="#484848" stroke-width="1.2"/>
<line x1="288.8" y1="834.6" x2="282.8" y2="834.6" stroke="#484848" stroke-width="1.2"/>
<line x1="58.3" y1="788.3" x2="64.3" y2="788.3" stroke="#484848" stroke-width="1.2"/>
<line x1="288.8" y1="788.3" x2="282.8" y2="788.3" stroke="#484848" stroke-width="1.2"/>
<line x1="58.3" y1="742" x2="64.3" y2="742" stroke="#484848" stroke-width="1.2"/>
<line x1="288.8" y1="742" x2="282.8" y2="742" stroke="#484848" stroke-width="1.2"/>
<line x1="58.3" y1="695.7" x2="64.3" y2="695.7" stroke="#484848" stroke-width="1.2"/>
<line x1="288.8" y1="695.7" x2="282.8" y2="695.7" stroke="#484848" stroke-width="1.2"/>
<line x1="58.3" y1="649.4" x2="64.3" y2="649.4" stroke="#484848" stroke-width="1.2"/>
<line x1="288.8" y1="649.4" x2="282.8" y2="649.4" stroke="#484848" stroke-width="1.2"/>
<text x="54.5" y="839.9" font-size="13.5" text-anchor="end" fill="#000">2600</text>
<text x="54.5" y="793.6" font-size="13.5" text-anchor="end" fill="#000">2800</text>
<text x="54.5" y="747.3" font-size="13.5" text-anchor="end" fill="#000">3000</text>
<text x="54.5" y="701" font-size="13.5" text-anchor="end" fill="#000">3200</text>
<text x="54.5" y="654.7" font-size="13.5" text-anchor="end" fill="#000">3400</text>
<text x="85.7" y="879.6" font-size="13" text-anchor="middle" fill="#000">2600</text>
<text x="132.02" y="879.6" font-size="13" text-anchor="middle" fill="#000">2800</text>
<text x="178.34" y="879.6" font-size="13" text-anchor="middle" fill="#000">3000</text>
<text x="224.66" y="879.6" font-size="13" text-anchor="middle" fill="#000">3200</text>
<text x="270.98" y="879.6" font-size="13" text-anchor="middle" fill="#000">3400</text>
<text x="96.7" y="904.5" font-size="17.5" textLength="100.1" lengthAdjust="spacingAndGlyphs" fill="#000">Actual value</text>
<text x="201.4" y="904.5" font-size="17.5" textLength="50" lengthAdjust="spacingAndGlyphs" fill="#000">(mAh)</text>
<text x="17.5" y="837.9" font-size="17.5" textLength="128.2" lengthAdjust="spacingAndGlyphs" transform="rotate(-90 17.5 837.9)" fill="#000">Predicted value</text>
<text x="17.5" y="705.1" font-size="17.5" textLength="50" lengthAdjust="spacingAndGlyphs" transform="rotate(-90 17.5 705.1)" fill="#000">(mAh)</text>
<rect x="65" y="633.2" width="157.5" height="23" fill="#fff"/>
<rect x="69" y="656" width="128" height="18.7" fill="#fff"/>
<rect x="69" y="674.5" width="77" height="22.8" fill="#fff"/>
<text x="66.5" y="650.8" font-size="16" textLength="155.4" lengthAdjust="spacingAndGlyphs" fill="#000">Discharge capacity</text>
<text x="73.5" y="668.6" font-size="13" fill="#000" textLength="121.5" lengthAdjust="spacingAndGlyphs">RMSE<tspan font-size="10" dy="3.8">CV</tspan><tspan dy="-3.8">=55.28 mAh</tspan></text>
<text x="75" y="691.6" font-size="13" fill="#000" textLength="67.2" lengthAdjust="spacingAndGlyphs">R<tspan font-size="10" dy="3.8">CV</tspan><tspan font-size="10" dy="-10.5"> 2</tspan><tspan dy="6.7">=0.926</tspan></text>
<text x="109.4" y="725.8" font-size="12.6" textLength="47.7" lengthAdjust="spacingAndGlyphs" fill="#000">90% line</text>
<text x="73.5" y="738.8" font-size="21.5" textLength="28.1" lengthAdjust="spacingAndGlyphs" fill="#000">(d)</text>
<circle cx="148.2" cy="831.5" r="3.9" fill="#fff" stroke="#555" stroke-width="0.9"/>
<text x="161.4" y="835.5" font-size="12.6" textLength="110.4" lengthAdjust="spacingAndGlyphs" fill="#000">Experimental data</text>
<rect x="144.4" y="843.3" width="7.6" height="7.6" fill="#fff" stroke="#e06060" stroke-width="0.9"/>
<text x="161.4" y="851.5" font-size="12.6" textLength="109.2" lengthAdjust="spacingAndGlyphs" fill="#000">Extrapolated data</text>
<line x1="395.5" y1="633" x2="395.5" y2="863" stroke="#c2c2c2" stroke-width="1" stroke-dasharray="1,1"/>
<line x1="441.5" y1="633" x2="441.5" y2="863" stroke="#c2c2c2" stroke-width="1" stroke-dasharray="1,1"/>
<line x1="487.5" y1="633" x2="487.5" y2="863" stroke="#c2c2c2" stroke-width="1" stroke-dasharray="1,1"/>
<line x1="533.5" y1="633" x2="533.5" y2="863" stroke="#c2c2c2" stroke-width="1" stroke-dasharray="1,1"/>
<line x1="580.5" y1="633" x2="580.5" y2="863" stroke="#c2c2c2" stroke-width="1" stroke-dasharray="1,1"/>
<line x1="626.5" y1="633" x2="626.5" y2="863" stroke="#c2c2c2" stroke-width="1" stroke-dasharray="1,1"/>
<line x1="395" y1="862.5" x2="626" y2="862.5" stroke="#c2c2c2" stroke-width="1" stroke-dasharray="1,1"/>
<line x1="395" y1="829.5" x2="626" y2="829.5" stroke="#c2c2c2" stroke-width="1" stroke-dasharray="1,1"/>
<line x1="395" y1="796.5" x2="626" y2="796.5" stroke="#c2c2c2" stroke-width="1" stroke-dasharray="1,1"/>
<line x1="395" y1="764.5" x2="626" y2="764.5" stroke="#c2c2c2" stroke-width="1" stroke-dasharray="1,1"/>
<line x1="395" y1="731.5" x2="626" y2="731.5" stroke="#c2c2c2" stroke-width="1" stroke-dasharray="1,1"/>
<line x1="395" y1="698.5" x2="626" y2="698.5" stroke="#c2c2c2" stroke-width="1" stroke-dasharray="1,1"/>
<line x1="395" y1="665.5" x2="626" y2="665.5" stroke="#c2c2c2" stroke-width="1" stroke-dasharray="1,1"/>
<line x1="395" y1="632.5" x2="626" y2="632.5" stroke="#c2c2c2" stroke-width="1" stroke-dasharray="1,1"/>
<rect x="405.8" y="714.8" width="36.6" height="32.5" fill="#fff"/>
<path d="M424,632.7 C424.67,633.92 426.37,637.45 428,640 C429.63,642.55 431.55,645.27 433.8,648 C436.05,650.73 438.75,654.57 441.5,656.4 C444.25,658.23 448.1,657.63 450.3,659 C452.5,660.37 454.7,662.93 454.7,664.6 C454.7,666.27 451.95,668.1 450.3,669 C448.65,669.9 446.82,669.45 444.8,670 C442.78,670.55 440.58,671.2 438.2,672.3 C435.82,673.4 434.7,674.05 430.5,676.6 C426.3,679.15 417.38,685.83 413,687.6 C408.62,689.37 407.2,687.38 404.2,687.2 C401.2,687.02 396.53,686.62 395,686.5" fill="none" stroke="#f6c410" stroke-width="1.55" stroke-linejoin="round" stroke-linecap="butt"/>
<path d="M462.4,675.1 C464.28,674.2 467.62,677.73 470,680 C472.38,682.27 475.22,685.78 476.7,688.7 C478.18,691.62 479.35,694.7 478.9,697.5 C478.45,700.3 475.83,703.67 474,705.5 C472.17,707.33 470.38,708.73 467.9,708.5 C465.42,708.27 460.92,706.3 459.1,704.1 C457.28,701.9 457.07,698.42 457,695.3 C456.93,692.18 457.8,688.77 458.7,685.4 C459.6,682.03 460.52,676 462.4,675.1" fill="none" stroke="#f6c410" stroke-width="1.55" stroke-linejoin="round" stroke-linecap="butt"/>
<path d="M409.5,632.3 C409.28,633.87 409.05,638.57 408.2,641.7 C407.35,644.83 405.77,648.8 404.4,651.1 C403.03,653.4 401.52,654.35 400,655.5 C398.48,656.65 396.08,657.58 395.3,658" fill="none" stroke="#eefc1e" stroke-width="1.55" stroke-linejoin="round" stroke-linecap="butt"/>
<path d="M395,639.5 L399.4,632.3" fill="none" stroke="#90e020" stroke-width="1.55" stroke-linejoin="round" stroke-linecap="butt"/>
<path d="M462.4,632.7 C464.05,634.72 468.08,642.05 472.3,644.8 C476.52,647.55 482.58,646.27 487.7,649.2 C492.82,652.13 498.8,657.12 503,662.4 C507.2,667.68 510.17,675.3 512.9,680.9 C515.63,686.5 518.15,691.88 519.4,696 C520.65,700.12 520.05,702.45 520.4,705.6 C520.75,708.75 521.32,711.83 521.5,714.9 C521.68,717.97 521.85,721.07 521.5,724 C521.15,726.93 521.9,729 519.4,732.5 C516.9,736 511.42,740.18 506.5,745 C501.58,749.82 494.13,756.83 489.9,761.4 C485.67,765.97 484.03,767.63 481.1,772.4 C478.17,777.17 474.5,784.88 472.3,790 C470.1,795.12 470.83,799.08 467.9,803.1 C464.97,807.12 459.1,811.35 454.7,814.1 C450.3,816.85 445.53,820.33 441.5,819.6 C437.47,818.87 433.78,813.92 430.5,809.7 C427.22,805.48 424.17,798.15 421.8,794.3 C419.43,790.45 417.6,789.52 416.3,786.6 C415,783.68 414.92,782.47 414,776.8 C413.08,771.13 412.07,758.47 410.8,752.6 C409.53,746.73 408.97,744.53 406.4,741.6 C403.83,738.67 397.23,736.1 395.4,735" fill="none" stroke="#f6c410" stroke-width="1.55" stroke-linejoin="round" stroke-linecap="butt"/>
<path d="M441.5,754.3 C444.37,754.67 448.8,758.57 449.9,761.4 C451,764.23 449.5,768.73 448.1,771.3 C446.7,773.87 443.88,776.98 441.5,776.8 C439.12,776.62 435.27,773.13 433.8,770.2 C432.33,767.27 431.42,761.85 432.7,759.2 C433.98,756.55 438.63,753.93 441.5,754.3" fill="none" stroke="#f8900e" stroke-width="1.55" stroke-linejoin="round" stroke-linecap="butt"/>
<path d="M395,750 C395.42,751 396.63,753.55 397.5,756 C398.37,758.45 400.2,761.87 400.2,764.7 C400.2,767.53 398.37,770.62 397.5,773 C396.63,775.38 395.42,778 395,779" fill="none" stroke="#eefc1e" stroke-width="1.55" stroke-linejoin="round" stroke-linecap="butt"/>
<path d="M395,822.5 C397.27,824.03 403.77,829.5 408.6,831.7 C413.43,833.9 417.78,834.78 424,835.7 C430.22,836.62 438.58,836.95 445.9,837.2 C453.22,837.45 462.95,837.08 467.9,837.2 C472.85,837.32 472.85,837.78 475.6,837.9 C478.35,838.02 480.33,837.92 484.4,837.9 C488.47,837.88 494.07,837.72 500,837.8 C505.93,837.88 513.18,838.15 520,838.4 C526.82,838.65 535.98,839.58 540.9,839.3 C545.82,839.02 546.63,837.52 549.5,836.7 C552.37,835.88 555.6,835.22 558.1,834.4 C560.6,833.58 563.07,834.03 564.5,831.8 C565.93,829.57 566.45,824.63 566.7,821 C566.95,817.37 566.37,813.22 566,810 C565.63,806.78 565.65,803.98 564.5,801.7 C563.35,799.42 561.43,797.1 559.1,796.3 C556.77,795.5 553.28,796.72 550.5,796.9 C547.72,797.08 545.27,797.32 542.4,797.4 C539.53,797.48 536.78,798.48 533.3,797.4 C529.82,796.32 525.25,794.13 521.5,790.9 C517.75,787.67 512.95,782.48 510.8,778 C508.65,773.52 507.07,768.33 508.6,764 C510.13,759.67 515.7,755.4 520,752 C524.3,748.6 528.77,745.9 534.4,743.6 C540.03,741.3 546.63,739.5 553.8,738.2 C560.97,736.9 572.57,736.57 577.4,735.8 C582.23,735.03 581.53,736.3 582.8,733.6 C584.07,730.9 584.47,724.8 585,719.6 C585.53,714.4 586,707.42 586,702.4 C586,697.38 585.9,693.08 585,689.5 C584.1,685.92 582.4,683.23 580.6,680.9 C578.8,678.57 575.73,678 574.2,675.5 C572.67,673 571.22,668.58 571.4,665.9 C571.58,663.22 573.4,660.67 575.3,659.4 C577.2,658.13 580.65,657.58 582.8,658.3 C584.95,659.02 586.95,661.37 588.2,663.7 C589.45,666.03 589.05,670.15 590.3,672.3 C591.55,674.45 593.18,676.78 595.7,676.6 C598.22,676.42 603.07,673.35 605.4,671.2 C607.73,669.05 609.35,667.1 609.7,663.7 C610.05,660.3 608.22,656 607.5,650.8 C606.78,645.6 605.75,635.55 605.4,632.5" fill="none" stroke="#eefc1e" stroke-width="1.55" stroke-linejoin="round" stroke-linecap="butt"/>
<path d="M614,735 C614.58,736.08 615.53,739 617.5,741.5 C619.47,744 624.42,748.58 625.8,750" fill="none" stroke="#b0f618" stroke-width="1.55" stroke-linejoin="round" stroke-linecap="butt"/>
<path d="M625.8,692.7 C625.08,693.78 622.68,696.15 621.5,699.2 C620.32,702.25 619.78,706.88 618.7,711 C617.62,715.12 615.78,720.48 615,723.9 C614.22,727.32 614.17,730.23 614,731.5" fill="none" stroke="#b0f618" stroke-width="1.55" stroke-linejoin="round" stroke-linecap="butt"/>
<path d="M625.8,798 C624.18,798.97 618.6,800.68 616.1,803.8 C613.6,806.92 611.87,812.93 610.8,816.7 C609.73,820.47 609.35,823.35 609.7,826.4 C610.05,829.45 610.22,832.13 612.9,835 C615.58,837.87 623.65,842.17 625.8,843.6" fill="none" stroke="#eefc1e" stroke-width="1.55" stroke-linejoin="round" stroke-linecap="butt"/>
<path d="M574.5,764.5 C574.5,763.87 577.17,762.6 578.5,762.6 C579.83,762.6 582.5,763.87 582.5,764.5 C582.5,765.13 579.83,766.4 578.5,766.4 C577.17,766.4 574.5,765.13 574.5,764.5" fill="none" stroke="#b0f618" stroke-width="1.55" stroke-linejoin="round" stroke-linecap="butt"/>
<path d="M395,837.2 C398,838.3 405.25,842.15 413,843.8 C420.75,845.45 433.08,845.82 441.5,847.1 C449.92,848.38 455.43,850.3 463.5,851.5 C471.57,852.7 483.48,853.83 489.9,854.3 C496.32,854.77 498.33,854.22 502,854.3 C505.67,854.38 506.85,854.43 511.9,854.8 C516.95,855.17 526.03,855.68 532.3,856.5 C538.57,857.32 543.77,858.52 549.5,859.7 C555.23,860.88 563.83,862.95 566.7,863.6" fill="none" stroke="#b0f618" stroke-width="1.55" stroke-linejoin="round" stroke-linecap="butt"/>
<path d="M395,848.2 C396.9,848.93 402.3,851.32 406.4,852.6 C410.5,853.88 415.65,855.35 419.6,855.9 C423.55,856.45 427,855.98 430.1,855.9 C433.2,855.82 435.2,855.03 438.2,855.4 C441.2,855.77 445.17,856.83 448.1,858.1 C451.03,859.37 454.52,862.18 455.8,863" fill="none" stroke="#78f020" stroke-width="1.55" stroke-linejoin="round" stroke-linecap="butt"/>
<path d="M395,859.2 L407.5,863" fill="none" stroke="#40ee20" stroke-width="1.55" stroke-linejoin="round" stroke-linecap="butt"/>
<circle cx="441.5" cy="698.2" r="0.9" fill="#f8900e"/>
<circle cx="487.7" cy="731.2" r="1.8" fill="#f8900e"/>
<ellipse cx="396.8" cy="797.2" rx="2.2" ry="1.2" fill="#f6c410"/>
<rect x="393.6" y="630.8" width="233.9" height="234.2" fill="none" stroke="#484848" stroke-width="1.15"/>
<line x1="395.3" y1="630.8" x2="395.3" y2="636.8" stroke="#484848" stroke-width="1.2"/>
<line x1="395.3" y1="865" x2="395.3" y2="859" stroke="#484848" stroke-width="1.2"/>
<line x1="441.5" y1="630.8" x2="441.5" y2="636.8" stroke="#484848" stroke-width="1.2"/>
<line x1="441.5" y1="865" x2="441.5" y2="859" stroke="#484848" stroke-width="1.2"/>
<line x1="487.7" y1="630.8" x2="487.7" y2="636.8" stroke="#484848" stroke-width="1.2"/>
<line x1="487.7" y1="865" x2="487.7" y2="859" stroke="#484848" stroke-width="1.2"/>
<line x1="533.9" y1="630.8" x2="533.9" y2="636.8" stroke="#484848" stroke-width="1.2"/>
<line x1="533.9" y1="865" x2="533.9" y2="859" stroke="#484848" stroke-width="1.2"/>
<line x1="580.1" y1="630.8" x2="580.1" y2="636.8" stroke="#484848" stroke-width="1.2"/>
<line x1="580.1" y1="865" x2="580.1" y2="859" stroke="#484848" stroke-width="1.2"/>
<line x1="626.3" y1="630.8" x2="626.3" y2="636.8" stroke="#484848" stroke-width="1.2"/>
<line x1="626.3" y1="865" x2="626.3" y2="859" stroke="#484848" stroke-width="1.2"/>
<line x1="393.6" y1="862.65" x2="399.6" y2="862.65" stroke="#484848" stroke-width="1.2"/>
<line x1="627.5" y1="862.65" x2="621.5" y2="862.65" stroke="#484848" stroke-width="1.2"/>
<line x1="393.6" y1="829.8" x2="399.6" y2="829.8" stroke="#484848" stroke-width="1.2"/>
<line x1="627.5" y1="829.8" x2="621.5" y2="829.8" stroke="#484848" stroke-width="1.2"/>
<line x1="393.6" y1="796.95" x2="399.6" y2="796.95" stroke="#484848" stroke-width="1.2"/>
<line x1="627.5" y1="796.95" x2="621.5" y2="796.95" stroke="#484848" stroke-width="1.2"/>
<line x1="393.6" y1="764.1" x2="399.6" y2="764.1" stroke="#484848" stroke-width="1.2"/>
<line x1="627.5" y1="764.1" x2="621.5" y2="764.1" stroke="#484848" stroke-width="1.2"/>
<line x1="393.6" y1="731.25" x2="399.6" y2="731.25" stroke="#484848" stroke-width="1.2"/>
<line x1="627.5" y1="731.25" x2="621.5" y2="731.25" stroke="#484848" stroke-width="1.2"/>
<line x1="393.6" y1="698.4" x2="399.6" y2="698.4" stroke="#484848" stroke-width="1.2"/>
<line x1="627.5" y1="698.4" x2="621.5" y2="698.4" stroke="#484848" stroke-width="1.2"/>
<line x1="393.6" y1="665.55" x2="399.6" y2="665.55" stroke="#484848" stroke-width="1.2"/>
<line x1="627.5" y1="665.55" x2="621.5" y2="665.55" stroke="#484848" stroke-width="1.2"/>
<line x1="393.6" y1="632.7" x2="399.6" y2="632.7" stroke="#484848" stroke-width="1.2"/>
<line x1="627.5" y1="632.7" x2="621.5" y2="632.7" stroke="#484848" stroke-width="1.2"/>
<g><rect x="433.95" y="651.3" width="15.1" height="10.2" fill="#fff"/>
<text x="441.5" y="660" font-size="10.06" text-anchor="middle" textLength="9.5" lengthAdjust="spacingAndGlyphs" fill="#262626">45</text></g>
<g transform="rotate(-20 438.2 672.3)"><rect x="430.65" y="667.2" width="15.1" height="10.2" fill="#fff"/>
<text x="438.2" y="675.9" font-size="10.06" text-anchor="middle" textLength="9.5" lengthAdjust="spacingAndGlyphs" fill="#262626">45</text></g>
<g transform="rotate(-10 404.2 687.2)"><rect x="396.65" y="682.1" width="15.1" height="10.2" fill="#fff"/>
<text x="404.2" y="690.8" font-size="10.06" text-anchor="middle" textLength="9.5" lengthAdjust="spacingAndGlyphs" fill="#262626">45</text></g>
<g transform="rotate(-90 458.7 685.4)"><rect x="451.15" y="680.3" width="15.1" height="10.2" fill="#fff"/>
<text x="458.7" y="689" font-size="10.06" text-anchor="middle" textLength="9.5" lengthAdjust="spacingAndGlyphs" fill="#262626">45</text></g>
<g transform="rotate(-90 521.5 714.9)"><rect x="513.95" y="709.8" width="15.1" height="10.2" fill="#fff"/>
<text x="521.5" y="718.5" font-size="10.06" text-anchor="middle" textLength="9.5" lengthAdjust="spacingAndGlyphs" fill="#262626">45</text></g>
<g><rect x="433.95" y="749.2" width="15.1" height="10.2" fill="#fff"/>
<text x="441.5" y="757.9" font-size="10.06" text-anchor="middle" textLength="9.5" lengthAdjust="spacingAndGlyphs" fill="#262626">30</text></g>
<g transform="rotate(-90 400.2 764.7)"><rect x="392.65" y="759.6" width="15.1" height="10.2" fill="#fff"/>
<text x="400.2" y="768.3" font-size="10.06" text-anchor="middle" textLength="9.5" lengthAdjust="spacingAndGlyphs" fill="#262626">60</text></g>
<g transform="rotate(-75 414 776.8)"><rect x="406.45" y="771.7" width="15.1" height="10.2" fill="#fff"/>
<text x="414" y="780.4" font-size="10.06" text-anchor="middle" textLength="9.5" lengthAdjust="spacingAndGlyphs" fill="#262626">45</text></g>
<g><rect x="468.05" y="832.8" width="15.1" height="10.2" fill="#fff"/>
<text x="475.6" y="841.5" font-size="10.06" text-anchor="middle" textLength="9.5" lengthAdjust="spacingAndGlyphs" fill="#262626">60</text></g>
<g transform="rotate(-10 549.5 836.7)"><rect x="541.95" y="831.6" width="15.1" height="10.2" fill="#fff"/>
<text x="549.5" y="840.3" font-size="10.06" text-anchor="middle" textLength="9.5" lengthAdjust="spacingAndGlyphs" fill="#262626">60</text></g>
<g><rect x="534.85" y="792.3" width="15.1" height="10.2" fill="#fff"/>
<text x="542.4" y="801" font-size="10.06" text-anchor="middle" textLength="9.5" lengthAdjust="spacingAndGlyphs" fill="#262626">60</text></g>
<g transform="rotate(-75 618.7 711)"><rect x="611.15" y="705.9" width="15.1" height="10.2" fill="#fff"/>
<text x="618.7" y="714.6" font-size="10.06" text-anchor="middle" textLength="9.5" lengthAdjust="spacingAndGlyphs" fill="#262626">75</text></g>
<g transform="rotate(-90 609.7 826.4)"><rect x="602.15" y="821.3" width="15.1" height="10.2" fill="#fff"/>
<text x="609.7" y="830" font-size="10.06" text-anchor="middle" textLength="9.5" lengthAdjust="spacingAndGlyphs" fill="#262626">60</text></g>
<g><rect x="494.45" y="849.2" width="15.1" height="10.2" fill="#fff"/>
<text x="502" y="857.9" font-size="10.06" text-anchor="middle" textLength="9.5" lengthAdjust="spacingAndGlyphs" fill="#262626">75</text></g>
<g><rect x="422.55" y="850.8" width="15.1" height="10.2" fill="#fff"/>
<text x="430.1" y="859.5" font-size="10.06" text-anchor="middle" textLength="9.5" lengthAdjust="spacingAndGlyphs" fill="#262626">90</text></g>
<text x="390.2" y="867.25" font-size="13" text-anchor="end" fill="#000">−20</text>
<text x="390.2" y="834.4" font-size="13" text-anchor="end" fill="#000">−10</text>
<text x="390.2" y="801.55" font-size="13" text-anchor="end" fill="#000">0</text>
<text x="390.2" y="768.7" font-size="13" text-anchor="end" fill="#000">10</text>
<text x="390.2" y="735.85" font-size="13" text-anchor="end" fill="#000">20</text>
<text x="390.2" y="703" font-size="13" text-anchor="end" fill="#000">30</text>
<text x="390.2" y="670.15" font-size="13" text-anchor="end" fill="#000">40</text>
<text x="390.2" y="637.3" font-size="13" text-anchor="end" fill="#000">50</text>
<text x="395.3" y="881.6" font-size="13.5" text-anchor="middle" fill="#000">0</text>
<text x="441.5" y="881.6" font-size="13.5" text-anchor="middle" fill="#000">20</text>
<text x="487.7" y="881.6" font-size="13.5" text-anchor="middle" fill="#000">40</text>
<text x="533.9" y="881.6" font-size="13.5" text-anchor="middle" fill="#000">60</text>
<text x="580.1" y="881.6" font-size="13.5" text-anchor="middle" fill="#000">80</text>
<text x="626.3" y="881.6" font-size="13.5" text-anchor="middle" fill="#000">100</text>
<text x="402.6" y="604.8" font-size="16.5" textLength="151.7" lengthAdjust="spacingAndGlyphs" fill="#000">Prediction error of</text>
<text x="403.1" y="623.8" font-size="16.5" textLength="150.7" lengthAdjust="spacingAndGlyphs" fill="#000">discharge capacity</text>
<text x="560.7" y="623.8" font-size="16.5" textLength="49.1" lengthAdjust="spacingAndGlyphs" fill="#000">(mAh)</text>
<text x="410.1" y="739.2" font-size="21.5" textLength="27.8" lengthAdjust="spacingAndGlyphs" fill="#000">(e)</text>
<text x="477.5" y="903.9" font-size="16.6" textLength="38.5" lengthAdjust="spacingAndGlyphs" fill="#000">SOC</text>
<text x="522.1" y="903.9" font-size="16.6" textLength="21.8" lengthAdjust="spacingAndGlyphs" fill="#000">(%)</text>
<text x="353" y="823" font-size="18" textLength="105.3" lengthAdjust="spacingAndGlyphs" transform="rotate(-90 353 823)" fill="#000">Temperature</text>
<text x="353" y="705.1" font-size="18" textLength="32.4" lengthAdjust="spacingAndGlyphs" transform="rotate(-90 353 705.1)" fill="#000">(°C)</text>
</svg>
</body></html>
